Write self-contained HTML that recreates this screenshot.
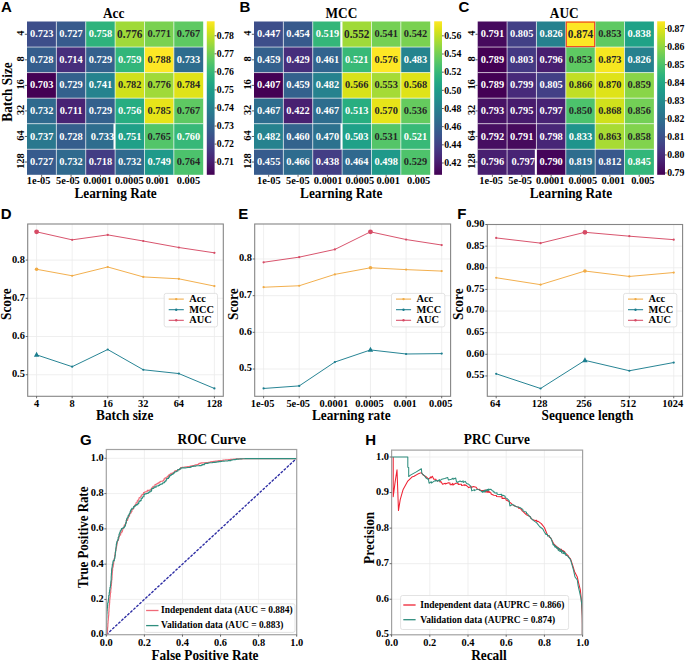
<!DOCTYPE html>
<html><head><meta charset="utf-8"><title>Figure</title>
<style>html,body{margin:0;padding:0;background:#fff;width:685px;height:661px;overflow:hidden}svg{display:block}</style>
</head><body>
<svg width="685" height="661" viewBox="0 0 685 661">
<rect x="0" y="0" width="685" height="661" fill="#fff"/>
<rect x="27.00" y="21.50" width="29.37" height="25.55" fill="#3d4e8a"/>
<rect x="56.37" y="21.50" width="29.37" height="25.55" fill="#375b8d"/>
<rect x="85.73" y="21.50" width="29.37" height="25.55" fill="#2eb37c"/>
<rect x="115.10" y="21.50" width="29.37" height="25.55" fill="#a0da39"/>
<rect x="144.47" y="21.50" width="29.37" height="25.55" fill="#7ad151"/>
<rect x="173.83" y="21.50" width="29.37" height="25.55" fill="#5ec962"/>
<rect x="27.00" y="47.05" width="29.37" height="25.55" fill="#355e8d"/>
<rect x="56.37" y="47.05" width="29.37" height="25.55" fill="#472e7c"/>
<rect x="85.73" y="47.05" width="29.37" height="25.55" fill="#34618d"/>
<rect x="115.10" y="47.05" width="29.37" height="25.55" fill="#32b67a"/>
<rect x="144.47" y="47.05" width="29.37" height="25.55" fill="#fde725"/>
<rect x="173.83" y="47.05" width="29.37" height="25.55" fill="#2e6d8e"/>
<rect x="27.00" y="72.60" width="29.37" height="25.55" fill="#440154"/>
<rect x="56.37" y="72.60" width="29.37" height="25.55" fill="#34618d"/>
<rect x="85.73" y="72.60" width="29.37" height="25.55" fill="#25838e"/>
<rect x="115.10" y="72.60" width="29.37" height="25.55" fill="#d0e11c"/>
<rect x="144.47" y="72.60" width="29.37" height="25.55" fill="#a0da39"/>
<rect x="173.83" y="72.60" width="29.37" height="25.55" fill="#dfe318"/>
<rect x="27.00" y="98.15" width="29.37" height="25.55" fill="#306a8e"/>
<rect x="56.37" y="98.15" width="29.37" height="25.55" fill="#482374"/>
<rect x="85.73" y="98.15" width="29.37" height="25.55" fill="#34618d"/>
<rect x="115.10" y="98.15" width="29.37" height="25.55" fill="#27ad81"/>
<rect x="144.47" y="98.15" width="29.37" height="25.55" fill="#e7e419"/>
<rect x="173.83" y="98.15" width="29.37" height="25.55" fill="#5ec962"/>
<rect x="27.00" y="123.70" width="29.37" height="25.55" fill="#2a788e"/>
<rect x="56.37" y="123.70" width="29.37" height="25.55" fill="#355e8d"/>
<rect x="85.73" y="123.70" width="29.37" height="25.55" fill="#2e6d8e"/>
<rect x="115.10" y="123.70" width="29.37" height="25.55" fill="#1fa088"/>
<rect x="144.47" y="123.70" width="29.37" height="25.55" fill="#52c569"/>
<rect x="173.83" y="123.70" width="29.37" height="25.55" fill="#37b878"/>
<rect x="27.00" y="149.25" width="29.37" height="25.55" fill="#375b8d"/>
<rect x="56.37" y="149.25" width="29.37" height="25.55" fill="#306a8e"/>
<rect x="85.73" y="149.25" width="29.37" height="25.55" fill="#433d84"/>
<rect x="115.10" y="149.25" width="29.37" height="25.55" fill="#306a8e"/>
<rect x="144.47" y="149.25" width="29.37" height="25.55" fill="#1f9a8a"/>
<rect x="173.83" y="149.25" width="29.37" height="25.55" fill="#4cc26c"/>
<line x1="56.37" y1="21.50" x2="56.37" y2="174.80" stroke="#ffffff" stroke-width="0.9" opacity="0.7"/>
<line x1="85.73" y1="21.50" x2="85.73" y2="174.80" stroke="#ffffff" stroke-width="0.9" opacity="0.7"/>
<line x1="115.10" y1="21.50" x2="115.10" y2="174.80" stroke="#ffffff" stroke-width="0.9" opacity="0.7"/>
<line x1="144.47" y1="21.50" x2="144.47" y2="174.80" stroke="#ffffff" stroke-width="0.9" opacity="0.7"/>
<line x1="173.83" y1="21.50" x2="173.83" y2="174.80" stroke="#ffffff" stroke-width="0.9" opacity="0.7"/>
<line x1="27.00" y1="47.05" x2="203.20" y2="47.05" stroke="#ffffff" stroke-width="0.9" opacity="0.7"/>
<line x1="27.00" y1="72.60" x2="203.20" y2="72.60" stroke="#ffffff" stroke-width="0.9" opacity="0.7"/>
<line x1="27.00" y1="98.15" x2="203.20" y2="98.15" stroke="#ffffff" stroke-width="0.9" opacity="0.7"/>
<line x1="27.00" y1="123.70" x2="203.20" y2="123.70" stroke="#ffffff" stroke-width="0.9" opacity="0.7"/>
<line x1="27.00" y1="149.25" x2="203.20" y2="149.25" stroke="#ffffff" stroke-width="0.9" opacity="0.7"/>
<text x="0" y="0" font-family='"Liberation Serif", serif' font-size="10.4" font-weight="bold" text-anchor="middle" fill="#ffffff" transform="translate(41.68 37.38) scale(1 1.08)">0.723</text>
<text x="0" y="0" font-family='"Liberation Serif", serif' font-size="10.4" font-weight="bold" text-anchor="middle" fill="#ffffff" transform="translate(71.05 37.38) scale(1 1.08)">0.727</text>
<text x="0" y="0" font-family='"Liberation Serif", serif' font-size="10.4" font-weight="bold" text-anchor="middle" fill="#ffffff" transform="translate(100.42 37.38) scale(1 1.08)">0.758</text>
<text x="0" y="0" font-family='"Liberation Serif", serif' font-size="11.3" font-weight="bold" text-anchor="middle" fill="#262626" transform="translate(129.78 37.58) scale(1 1.08)">0.776</text>
<text x="0" y="0" font-family='"Liberation Serif", serif' font-size="10.4" font-weight="bold" text-anchor="middle" fill="#262626" transform="translate(159.15 37.38) scale(1 1.08)">0.771</text>
<text x="0" y="0" font-family='"Liberation Serif", serif' font-size="10.4" font-weight="bold" text-anchor="middle" fill="#262626" transform="translate(188.52 37.38) scale(1 1.08)">0.767</text>
<text x="0" y="0" font-family='"Liberation Serif", serif' font-size="10.4" font-weight="bold" text-anchor="middle" fill="#ffffff" transform="translate(41.68 62.93) scale(1 1.08)">0.728</text>
<text x="0" y="0" font-family='"Liberation Serif", serif' font-size="10.4" font-weight="bold" text-anchor="middle" fill="#ffffff" transform="translate(71.05 62.93) scale(1 1.08)">0.714</text>
<text x="0" y="0" font-family='"Liberation Serif", serif' font-size="10.4" font-weight="bold" text-anchor="middle" fill="#ffffff" transform="translate(100.42 62.93) scale(1 1.08)">0.729</text>
<text x="0" y="0" font-family='"Liberation Serif", serif' font-size="10.4" font-weight="bold" text-anchor="middle" fill="#ffffff" transform="translate(129.78 62.93) scale(1 1.08)">0.759</text>
<text x="0" y="0" font-family='"Liberation Serif", serif' font-size="10.4" font-weight="bold" text-anchor="middle" fill="#262626" transform="translate(159.15 62.93) scale(1 1.08)">0.788</text>
<text x="0" y="0" font-family='"Liberation Serif", serif' font-size="10.4" font-weight="bold" text-anchor="middle" fill="#ffffff" transform="translate(188.52 62.93) scale(1 1.08)">0.733</text>
<text x="0" y="0" font-family='"Liberation Serif", serif' font-size="10.4" font-weight="bold" text-anchor="middle" fill="#ffffff" transform="translate(41.68 88.47) scale(1 1.08)">0.703</text>
<text x="0" y="0" font-family='"Liberation Serif", serif' font-size="10.4" font-weight="bold" text-anchor="middle" fill="#ffffff" transform="translate(71.05 88.47) scale(1 1.08)">0.729</text>
<text x="0" y="0" font-family='"Liberation Serif", serif' font-size="10.4" font-weight="bold" text-anchor="middle" fill="#ffffff" transform="translate(100.42 88.47) scale(1 1.08)">0.741</text>
<text x="0" y="0" font-family='"Liberation Serif", serif' font-size="10.4" font-weight="bold" text-anchor="middle" fill="#262626" transform="translate(129.78 88.47) scale(1 1.08)">0.782</text>
<text x="0" y="0" font-family='"Liberation Serif", serif' font-size="10.4" font-weight="bold" text-anchor="middle" fill="#262626" transform="translate(159.15 88.47) scale(1 1.08)">0.776</text>
<text x="0" y="0" font-family='"Liberation Serif", serif' font-size="10.4" font-weight="bold" text-anchor="middle" fill="#262626" transform="translate(188.52 88.47) scale(1 1.08)">0.784</text>
<text x="0" y="0" font-family='"Liberation Serif", serif' font-size="10.4" font-weight="bold" text-anchor="middle" fill="#ffffff" transform="translate(41.68 114.02) scale(1 1.08)">0.732</text>
<text x="0" y="0" font-family='"Liberation Serif", serif' font-size="10.4" font-weight="bold" text-anchor="middle" fill="#ffffff" transform="translate(71.05 114.02) scale(1 1.08)">0.711</text>
<text x="0" y="0" font-family='"Liberation Serif", serif' font-size="10.4" font-weight="bold" text-anchor="middle" fill="#ffffff" transform="translate(100.42 114.02) scale(1 1.08)">0.729</text>
<text x="0" y="0" font-family='"Liberation Serif", serif' font-size="10.4" font-weight="bold" text-anchor="middle" fill="#ffffff" transform="translate(129.78 114.02) scale(1 1.08)">0.756</text>
<text x="0" y="0" font-family='"Liberation Serif", serif' font-size="10.4" font-weight="bold" text-anchor="middle" fill="#262626" transform="translate(159.15 114.02) scale(1 1.08)">0.785</text>
<text x="0" y="0" font-family='"Liberation Serif", serif' font-size="10.4" font-weight="bold" text-anchor="middle" fill="#262626" transform="translate(188.52 114.02) scale(1 1.08)">0.767</text>
<text x="0" y="0" font-family='"Liberation Serif", serif' font-size="10.4" font-weight="bold" text-anchor="middle" fill="#ffffff" transform="translate(41.68 139.58) scale(1 1.08)">0.737</text>
<text x="0" y="0" font-family='"Liberation Serif", serif' font-size="10.4" font-weight="bold" text-anchor="middle" fill="#ffffff" transform="translate(71.05 139.58) scale(1 1.08)">0.728</text>
<text x="0" y="0" font-family='"Liberation Serif", serif' font-size="10.4" font-weight="bold" text-anchor="middle" fill="#ffffff" transform="translate(102.42 139.58) scale(1 1.08)">0.733</text>
<text x="0" y="0" font-family='"Liberation Serif", serif' font-size="10.4" font-weight="bold" text-anchor="middle" fill="#ffffff" transform="translate(129.78 139.58) scale(1 1.08)">0.751</text>
<text x="0" y="0" font-family='"Liberation Serif", serif' font-size="10.4" font-weight="bold" text-anchor="middle" fill="#262626" transform="translate(159.15 139.58) scale(1 1.08)">0.765</text>
<text x="0" y="0" font-family='"Liberation Serif", serif' font-size="10.4" font-weight="bold" text-anchor="middle" fill="#ffffff" transform="translate(188.52 139.58) scale(1 1.08)">0.760</text>
<text x="0" y="0" font-family='"Liberation Serif", serif' font-size="10.4" font-weight="bold" text-anchor="middle" fill="#ffffff" transform="translate(41.68 165.12) scale(1 1.08)">0.727</text>
<text x="0" y="0" font-family='"Liberation Serif", serif' font-size="10.4" font-weight="bold" text-anchor="middle" fill="#ffffff" transform="translate(71.05 165.12) scale(1 1.08)">0.732</text>
<text x="0" y="0" font-family='"Liberation Serif", serif' font-size="10.4" font-weight="bold" text-anchor="middle" fill="#ffffff" transform="translate(100.42 165.12) scale(1 1.08)">0.718</text>
<text x="0" y="0" font-family='"Liberation Serif", serif' font-size="10.4" font-weight="bold" text-anchor="middle" fill="#ffffff" transform="translate(129.78 165.12) scale(1 1.08)">0.732</text>
<text x="0" y="0" font-family='"Liberation Serif", serif' font-size="10.4" font-weight="bold" text-anchor="middle" fill="#ffffff" transform="translate(159.15 165.12) scale(1 1.08)">0.749</text>
<text x="0" y="0" font-family='"Liberation Serif", serif' font-size="10.4" font-weight="bold" text-anchor="middle" fill="#262626" transform="translate(188.52 165.12) scale(1 1.08)">0.764</text>
<line x1="24.80" y1="34.27" x2="27.00" y2="34.27" stroke="#333" stroke-width="0.8"/>
<text x="0" y="0" font-family='"Liberation Serif", serif' font-size="10.4" font-weight="bold" text-anchor="middle" fill="#000" transform="translate(24.00 33.27) rotate(-90) scale(1 1.08)">4</text>
<line x1="24.80" y1="59.83" x2="27.00" y2="59.83" stroke="#333" stroke-width="0.8"/>
<text x="0" y="0" font-family='"Liberation Serif", serif' font-size="10.4" font-weight="bold" text-anchor="middle" fill="#000" transform="translate(24.00 58.83) rotate(-90) scale(1 1.08)">8</text>
<line x1="24.80" y1="85.38" x2="27.00" y2="85.38" stroke="#333" stroke-width="0.8"/>
<text x="0" y="0" font-family='"Liberation Serif", serif' font-size="10.4" font-weight="bold" text-anchor="middle" fill="#000" transform="translate(24.00 84.38) rotate(-90) scale(1 1.08)">16</text>
<line x1="24.80" y1="110.92" x2="27.00" y2="110.92" stroke="#333" stroke-width="0.8"/>
<text x="0" y="0" font-family='"Liberation Serif", serif' font-size="10.4" font-weight="bold" text-anchor="middle" fill="#000" transform="translate(24.00 109.92) rotate(-90) scale(1 1.08)">32</text>
<line x1="24.80" y1="136.48" x2="27.00" y2="136.48" stroke="#333" stroke-width="0.8"/>
<text x="0" y="0" font-family='"Liberation Serif", serif' font-size="10.4" font-weight="bold" text-anchor="middle" fill="#000" transform="translate(24.00 135.48) rotate(-90) scale(1 1.08)">64</text>
<line x1="24.80" y1="162.03" x2="27.00" y2="162.03" stroke="#333" stroke-width="0.8"/>
<text x="0" y="0" font-family='"Liberation Serif", serif' font-size="10.4" font-weight="bold" text-anchor="middle" fill="#000" transform="translate(24.00 161.03) rotate(-90) scale(1 1.08)">128</text>
<line x1="41.68" y1="174.80" x2="41.68" y2="176.80" stroke="#333" stroke-width="0.8"/>
<text x="0" y="0" font-family='"Liberation Serif", serif' font-size="10.4" font-weight="bold" text-anchor="middle" fill="#000" transform="translate(38.68 183.90) scale(1 1.08)">1e-05</text>
<line x1="71.05" y1="174.80" x2="71.05" y2="176.80" stroke="#333" stroke-width="0.8"/>
<text x="0" y="0" font-family='"Liberation Serif", serif' font-size="10.4" font-weight="bold" text-anchor="middle" fill="#000" transform="translate(67.95 183.90) scale(1 1.08)">5e-05</text>
<line x1="100.42" y1="174.80" x2="100.42" y2="176.80" stroke="#333" stroke-width="0.8"/>
<text x="0" y="0" font-family='"Liberation Serif", serif' font-size="10.4" font-weight="bold" text-anchor="middle" fill="#000" transform="translate(97.62 183.90) scale(1 1.08)">0.0001</text>
<line x1="129.78" y1="174.80" x2="129.78" y2="176.80" stroke="#333" stroke-width="0.8"/>
<text x="0" y="0" font-family='"Liberation Serif", serif' font-size="10.4" font-weight="bold" text-anchor="middle" fill="#000" transform="translate(129.28 183.90) scale(1 1.08)">0.0005</text>
<line x1="159.15" y1="174.80" x2="159.15" y2="176.80" stroke="#333" stroke-width="0.8"/>
<text x="0" y="0" font-family='"Liberation Serif", serif' font-size="10.4" font-weight="bold" text-anchor="middle" fill="#000" transform="translate(157.55 183.90) scale(1 1.08)">0.001</text>
<line x1="188.52" y1="174.80" x2="188.52" y2="176.80" stroke="#333" stroke-width="0.8"/>
<text x="0" y="0" font-family='"Liberation Serif", serif' font-size="10.4" font-weight="bold" text-anchor="middle" fill="#000" transform="translate(188.42 183.90) scale(1 1.08)">0.005</text>
<text x="0" y="0" font-family='"Liberation Serif", serif' font-size="13.3" font-weight="bold" text-anchor="middle" fill="#000" transform="translate(113.70 17.50) scale(1 1.08)">Acc</text>
<text x="0" y="0" font-family='"Liberation Serif", serif' font-size="13.3" font-weight="bold" text-anchor="middle" fill="#000" transform="translate(115.60 197.60) scale(1 1.08)">Learning Rate</text>
<defs><linearGradient id="gA" x1="0" y1="0" x2="0" y2="1"><stop offset="0.000" stop-color="#fde725"/><stop offset="0.050" stop-color="#dfe318"/><stop offset="0.100" stop-color="#bddf26"/><stop offset="0.150" stop-color="#9bd93c"/><stop offset="0.200" stop-color="#7ad151"/><stop offset="0.250" stop-color="#5ec962"/><stop offset="0.300" stop-color="#44bf70"/><stop offset="0.350" stop-color="#2fb47c"/><stop offset="0.400" stop-color="#22a884"/><stop offset="0.450" stop-color="#1e9c89"/><stop offset="0.500" stop-color="#21918c"/><stop offset="0.550" stop-color="#25848e"/><stop offset="0.600" stop-color="#2a788e"/><stop offset="0.650" stop-color="#2f6c8e"/><stop offset="0.700" stop-color="#355f8d"/><stop offset="0.750" stop-color="#3b528b"/><stop offset="0.800" stop-color="#414487"/><stop offset="0.850" stop-color="#463480"/><stop offset="0.900" stop-color="#482475"/><stop offset="0.950" stop-color="#471365"/><stop offset="1.000" stop-color="#440154"/></linearGradient></defs>
<rect x="206.80" y="21.30" width="7.80" height="153.50" fill="url(#gA)"/>
<line x1="214.60" y1="162.16" x2="216.40" y2="162.16" stroke="#333" stroke-width="0.8"/>
<text x="0" y="0" font-family='"Liberation Serif", serif' font-size="9.8" font-weight="bold" text-anchor="start" fill="#000" transform="translate(216.80 165.46) scale(1 1.08)">0.71</text>
<line x1="214.60" y1="144.10" x2="216.40" y2="144.10" stroke="#333" stroke-width="0.8"/>
<text x="0" y="0" font-family='"Liberation Serif", serif' font-size="9.8" font-weight="bold" text-anchor="start" fill="#000" transform="translate(216.80 147.40) scale(1 1.08)">0.72</text>
<line x1="214.60" y1="126.04" x2="216.40" y2="126.04" stroke="#333" stroke-width="0.8"/>
<text x="0" y="0" font-family='"Liberation Serif", serif' font-size="9.8" font-weight="bold" text-anchor="start" fill="#000" transform="translate(216.80 129.34) scale(1 1.08)">0.73</text>
<line x1="214.60" y1="107.98" x2="216.40" y2="107.98" stroke="#333" stroke-width="0.8"/>
<text x="0" y="0" font-family='"Liberation Serif", serif' font-size="9.8" font-weight="bold" text-anchor="start" fill="#000" transform="translate(216.80 111.28) scale(1 1.08)">0.74</text>
<line x1="214.60" y1="89.92" x2="216.40" y2="89.92" stroke="#333" stroke-width="0.8"/>
<text x="0" y="0" font-family='"Liberation Serif", serif' font-size="9.8" font-weight="bold" text-anchor="start" fill="#000" transform="translate(216.80 93.22) scale(1 1.08)">0.75</text>
<line x1="214.60" y1="71.86" x2="216.40" y2="71.86" stroke="#333" stroke-width="0.8"/>
<text x="0" y="0" font-family='"Liberation Serif", serif' font-size="9.8" font-weight="bold" text-anchor="start" fill="#000" transform="translate(216.80 75.16) scale(1 1.08)">0.76</text>
<line x1="214.60" y1="53.81" x2="216.40" y2="53.81" stroke="#333" stroke-width="0.8"/>
<text x="0" y="0" font-family='"Liberation Serif", serif' font-size="9.8" font-weight="bold" text-anchor="start" fill="#000" transform="translate(216.80 57.11) scale(1 1.08)">0.77</text>
<line x1="214.60" y1="35.75" x2="216.40" y2="35.75" stroke="#333" stroke-width="0.8"/>
<text x="0" y="0" font-family='"Liberation Serif", serif' font-size="9.8" font-weight="bold" text-anchor="start" fill="#000" transform="translate(216.80 39.05) scale(1 1.08)">0.78</text>
<text x="0" y="0" font-family='"Liberation Sans", sans-serif' font-size="15" font-weight="bold" text-anchor="start" fill="#000" transform="translate(1.00 11.60) scale(1 1.0)">A</text>
<rect x="254.00" y="21.50" width="29.37" height="25.55" fill="#3d4e8a"/>
<rect x="283.37" y="21.50" width="29.37" height="25.55" fill="#375a8c"/>
<rect x="312.73" y="21.50" width="29.37" height="25.55" fill="#34b679"/>
<rect x="342.10" y="21.50" width="29.37" height="25.55" fill="#a0da39"/>
<rect x="371.47" y="21.50" width="29.37" height="25.55" fill="#75d054"/>
<rect x="400.83" y="21.50" width="29.37" height="25.55" fill="#7ad151"/>
<rect x="254.00" y="47.05" width="29.37" height="25.55" fill="#34618d"/>
<rect x="283.37" y="47.05" width="29.37" height="25.55" fill="#472e7c"/>
<rect x="312.73" y="47.05" width="29.37" height="25.55" fill="#32648e"/>
<rect x="342.10" y="47.05" width="29.37" height="25.55" fill="#38b977"/>
<rect x="371.47" y="47.05" width="29.37" height="25.55" fill="#fde725"/>
<rect x="400.83" y="47.05" width="29.37" height="25.55" fill="#25848e"/>
<rect x="254.00" y="72.60" width="29.37" height="25.55" fill="#440154"/>
<rect x="283.37" y="72.60" width="29.37" height="25.55" fill="#34618d"/>
<rect x="312.73" y="72.60" width="29.37" height="25.55" fill="#26828e"/>
<rect x="342.10" y="72.60" width="29.37" height="25.55" fill="#d8e219"/>
<rect x="371.47" y="72.60" width="29.37" height="25.55" fill="#a5db36"/>
<rect x="400.83" y="72.60" width="29.37" height="25.55" fill="#dfe318"/>
<rect x="254.00" y="98.15" width="29.37" height="25.55" fill="#2e6d8e"/>
<rect x="283.37" y="98.15" width="29.37" height="25.55" fill="#482071"/>
<rect x="312.73" y="98.15" width="29.37" height="25.55" fill="#2e6d8e"/>
<rect x="342.10" y="98.15" width="29.37" height="25.55" fill="#28ae80"/>
<rect x="371.47" y="98.15" width="29.37" height="25.55" fill="#e7e419"/>
<rect x="400.83" y="98.15" width="29.37" height="25.55" fill="#65cb5e"/>
<rect x="254.00" y="123.70" width="29.37" height="25.55" fill="#26828e"/>
<rect x="283.37" y="123.70" width="29.37" height="25.55" fill="#33638d"/>
<rect x="312.73" y="123.70" width="29.37" height="25.55" fill="#2c718e"/>
<rect x="342.10" y="123.70" width="29.37" height="25.55" fill="#1fa188"/>
<rect x="371.47" y="123.70" width="29.37" height="25.55" fill="#54c568"/>
<rect x="400.83" y="123.70" width="29.37" height="25.55" fill="#38b977"/>
<rect x="254.00" y="149.25" width="29.37" height="25.55" fill="#375b8d"/>
<rect x="283.37" y="149.25" width="29.37" height="25.55" fill="#2f6c8e"/>
<rect x="312.73" y="149.25" width="29.37" height="25.55" fill="#433e85"/>
<rect x="342.10" y="149.25" width="29.37" height="25.55" fill="#30698e"/>
<rect x="371.47" y="149.25" width="29.37" height="25.55" fill="#1f998a"/>
<rect x="400.83" y="149.25" width="29.37" height="25.55" fill="#4ec36b"/>
<line x1="283.37" y1="21.50" x2="283.37" y2="174.80" stroke="#ffffff" stroke-width="0.9" opacity="0.7"/>
<line x1="312.73" y1="21.50" x2="312.73" y2="174.80" stroke="#ffffff" stroke-width="0.9" opacity="0.7"/>
<line x1="342.10" y1="21.50" x2="342.10" y2="174.80" stroke="#ffffff" stroke-width="0.9" opacity="0.7"/>
<line x1="371.47" y1="21.50" x2="371.47" y2="174.80" stroke="#ffffff" stroke-width="0.9" opacity="0.7"/>
<line x1="400.83" y1="21.50" x2="400.83" y2="174.80" stroke="#ffffff" stroke-width="0.9" opacity="0.7"/>
<line x1="254.00" y1="47.05" x2="430.20" y2="47.05" stroke="#ffffff" stroke-width="0.9" opacity="0.7"/>
<line x1="254.00" y1="72.60" x2="430.20" y2="72.60" stroke="#ffffff" stroke-width="0.9" opacity="0.7"/>
<line x1="254.00" y1="98.15" x2="430.20" y2="98.15" stroke="#ffffff" stroke-width="0.9" opacity="0.7"/>
<line x1="254.00" y1="123.70" x2="430.20" y2="123.70" stroke="#ffffff" stroke-width="0.9" opacity="0.7"/>
<line x1="254.00" y1="149.25" x2="430.20" y2="149.25" stroke="#ffffff" stroke-width="0.9" opacity="0.7"/>
<text x="0" y="0" font-family='"Liberation Serif", serif' font-size="10.4" font-weight="bold" text-anchor="middle" fill="#ffffff" transform="translate(268.68 37.38) scale(1 1.08)">0.447</text>
<text x="0" y="0" font-family='"Liberation Serif", serif' font-size="10.4" font-weight="bold" text-anchor="middle" fill="#ffffff" transform="translate(298.05 37.38) scale(1 1.08)">0.454</text>
<text x="0" y="0" font-family='"Liberation Serif", serif' font-size="10.4" font-weight="bold" text-anchor="middle" fill="#ffffff" transform="translate(327.42 37.38) scale(1 1.08)">0.519</text>
<text x="0" y="0" font-family='"Liberation Serif", serif' font-size="11.3" font-weight="bold" text-anchor="middle" fill="#262626" transform="translate(356.78 37.58) scale(1 1.08)">0.552</text>
<text x="0" y="0" font-family='"Liberation Serif", serif' font-size="10.4" font-weight="bold" text-anchor="middle" fill="#262626" transform="translate(386.15 37.38) scale(1 1.08)">0.541</text>
<text x="0" y="0" font-family='"Liberation Serif", serif' font-size="10.4" font-weight="bold" text-anchor="middle" fill="#262626" transform="translate(415.52 37.38) scale(1 1.08)">0.542</text>
<text x="0" y="0" font-family='"Liberation Serif", serif' font-size="10.4" font-weight="bold" text-anchor="middle" fill="#ffffff" transform="translate(268.68 62.93) scale(1 1.08)">0.459</text>
<text x="0" y="0" font-family='"Liberation Serif", serif' font-size="10.4" font-weight="bold" text-anchor="middle" fill="#ffffff" transform="translate(298.05 62.93) scale(1 1.08)">0.429</text>
<text x="0" y="0" font-family='"Liberation Serif", serif' font-size="10.4" font-weight="bold" text-anchor="middle" fill="#ffffff" transform="translate(327.42 62.93) scale(1 1.08)">0.461</text>
<text x="0" y="0" font-family='"Liberation Serif", serif' font-size="10.4" font-weight="bold" text-anchor="middle" fill="#ffffff" transform="translate(356.78 62.93) scale(1 1.08)">0.521</text>
<text x="0" y="0" font-family='"Liberation Serif", serif' font-size="10.4" font-weight="bold" text-anchor="middle" fill="#262626" transform="translate(386.15 62.93) scale(1 1.08)">0.576</text>
<text x="0" y="0" font-family='"Liberation Serif", serif' font-size="10.4" font-weight="bold" text-anchor="middle" fill="#ffffff" transform="translate(415.52 62.93) scale(1 1.08)">0.483</text>
<text x="0" y="0" font-family='"Liberation Serif", serif' font-size="10.4" font-weight="bold" text-anchor="middle" fill="#ffffff" transform="translate(268.68 88.47) scale(1 1.08)">0.407</text>
<text x="0" y="0" font-family='"Liberation Serif", serif' font-size="10.4" font-weight="bold" text-anchor="middle" fill="#ffffff" transform="translate(298.05 88.47) scale(1 1.08)">0.459</text>
<text x="0" y="0" font-family='"Liberation Serif", serif' font-size="10.4" font-weight="bold" text-anchor="middle" fill="#ffffff" transform="translate(327.42 88.47) scale(1 1.08)">0.482</text>
<text x="0" y="0" font-family='"Liberation Serif", serif' font-size="10.4" font-weight="bold" text-anchor="middle" fill="#262626" transform="translate(356.78 88.47) scale(1 1.08)">0.566</text>
<text x="0" y="0" font-family='"Liberation Serif", serif' font-size="10.4" font-weight="bold" text-anchor="middle" fill="#262626" transform="translate(386.15 88.47) scale(1 1.08)">0.553</text>
<text x="0" y="0" font-family='"Liberation Serif", serif' font-size="10.4" font-weight="bold" text-anchor="middle" fill="#262626" transform="translate(415.52 88.47) scale(1 1.08)">0.568</text>
<text x="0" y="0" font-family='"Liberation Serif", serif' font-size="10.4" font-weight="bold" text-anchor="middle" fill="#ffffff" transform="translate(268.68 114.02) scale(1 1.08)">0.467</text>
<text x="0" y="0" font-family='"Liberation Serif", serif' font-size="10.4" font-weight="bold" text-anchor="middle" fill="#ffffff" transform="translate(298.05 114.02) scale(1 1.08)">0.422</text>
<text x="0" y="0" font-family='"Liberation Serif", serif' font-size="10.4" font-weight="bold" text-anchor="middle" fill="#ffffff" transform="translate(327.42 114.02) scale(1 1.08)">0.467</text>
<text x="0" y="0" font-family='"Liberation Serif", serif' font-size="10.4" font-weight="bold" text-anchor="middle" fill="#ffffff" transform="translate(356.78 114.02) scale(1 1.08)">0.513</text>
<text x="0" y="0" font-family='"Liberation Serif", serif' font-size="10.4" font-weight="bold" text-anchor="middle" fill="#262626" transform="translate(386.15 114.02) scale(1 1.08)">0.570</text>
<text x="0" y="0" font-family='"Liberation Serif", serif' font-size="10.4" font-weight="bold" text-anchor="middle" fill="#262626" transform="translate(415.52 114.02) scale(1 1.08)">0.536</text>
<text x="0" y="0" font-family='"Liberation Serif", serif' font-size="10.4" font-weight="bold" text-anchor="middle" fill="#ffffff" transform="translate(268.68 139.58) scale(1 1.08)">0.482</text>
<text x="0" y="0" font-family='"Liberation Serif", serif' font-size="10.4" font-weight="bold" text-anchor="middle" fill="#ffffff" transform="translate(298.05 139.58) scale(1 1.08)">0.460</text>
<text x="0" y="0" font-family='"Liberation Serif", serif' font-size="10.4" font-weight="bold" text-anchor="middle" fill="#ffffff" transform="translate(327.42 139.58) scale(1 1.08)">0.470</text>
<text x="0" y="0" font-family='"Liberation Serif", serif' font-size="10.4" font-weight="bold" text-anchor="middle" fill="#ffffff" transform="translate(356.78 139.58) scale(1 1.08)">0.503</text>
<text x="0" y="0" font-family='"Liberation Serif", serif' font-size="10.4" font-weight="bold" text-anchor="middle" fill="#262626" transform="translate(386.15 139.58) scale(1 1.08)">0.531</text>
<text x="0" y="0" font-family='"Liberation Serif", serif' font-size="10.4" font-weight="bold" text-anchor="middle" fill="#ffffff" transform="translate(415.52 139.58) scale(1 1.08)">0.521</text>
<text x="0" y="0" font-family='"Liberation Serif", serif' font-size="10.4" font-weight="bold" text-anchor="middle" fill="#ffffff" transform="translate(268.68 165.12) scale(1 1.08)">0.455</text>
<text x="0" y="0" font-family='"Liberation Serif", serif' font-size="10.4" font-weight="bold" text-anchor="middle" fill="#ffffff" transform="translate(298.05 165.12) scale(1 1.08)">0.466</text>
<text x="0" y="0" font-family='"Liberation Serif", serif' font-size="10.4" font-weight="bold" text-anchor="middle" fill="#ffffff" transform="translate(327.42 165.12) scale(1 1.08)">0.438</text>
<text x="0" y="0" font-family='"Liberation Serif", serif' font-size="10.4" font-weight="bold" text-anchor="middle" fill="#ffffff" transform="translate(356.78 165.12) scale(1 1.08)">0.464</text>
<text x="0" y="0" font-family='"Liberation Serif", serif' font-size="10.4" font-weight="bold" text-anchor="middle" fill="#ffffff" transform="translate(386.15 165.12) scale(1 1.08)">0.498</text>
<text x="0" y="0" font-family='"Liberation Serif", serif' font-size="10.4" font-weight="bold" text-anchor="middle" fill="#262626" transform="translate(415.52 165.12) scale(1 1.08)">0.529</text>
<line x1="251.80" y1="34.27" x2="254.00" y2="34.27" stroke="#333" stroke-width="0.8"/>
<text x="0" y="0" font-family='"Liberation Serif", serif' font-size="10.4" font-weight="bold" text-anchor="middle" fill="#000" transform="translate(251.00 33.27) rotate(-90) scale(1 1.08)">4</text>
<line x1="251.80" y1="59.83" x2="254.00" y2="59.83" stroke="#333" stroke-width="0.8"/>
<text x="0" y="0" font-family='"Liberation Serif", serif' font-size="10.4" font-weight="bold" text-anchor="middle" fill="#000" transform="translate(251.00 58.83) rotate(-90) scale(1 1.08)">8</text>
<line x1="251.80" y1="85.38" x2="254.00" y2="85.38" stroke="#333" stroke-width="0.8"/>
<text x="0" y="0" font-family='"Liberation Serif", serif' font-size="10.4" font-weight="bold" text-anchor="middle" fill="#000" transform="translate(251.00 84.38) rotate(-90) scale(1 1.08)">16</text>
<line x1="251.80" y1="110.92" x2="254.00" y2="110.92" stroke="#333" stroke-width="0.8"/>
<text x="0" y="0" font-family='"Liberation Serif", serif' font-size="10.4" font-weight="bold" text-anchor="middle" fill="#000" transform="translate(251.00 109.92) rotate(-90) scale(1 1.08)">32</text>
<line x1="251.80" y1="136.48" x2="254.00" y2="136.48" stroke="#333" stroke-width="0.8"/>
<text x="0" y="0" font-family='"Liberation Serif", serif' font-size="10.4" font-weight="bold" text-anchor="middle" fill="#000" transform="translate(251.00 135.48) rotate(-90) scale(1 1.08)">64</text>
<line x1="251.80" y1="162.03" x2="254.00" y2="162.03" stroke="#333" stroke-width="0.8"/>
<text x="0" y="0" font-family='"Liberation Serif", serif' font-size="10.4" font-weight="bold" text-anchor="middle" fill="#000" transform="translate(251.00 161.03) rotate(-90) scale(1 1.08)">128</text>
<line x1="268.68" y1="174.80" x2="268.68" y2="176.80" stroke="#333" stroke-width="0.8"/>
<text x="0" y="0" font-family='"Liberation Serif", serif' font-size="10.4" font-weight="bold" text-anchor="middle" fill="#000" transform="translate(268.88 183.90) scale(1 1.08)">1e-05</text>
<line x1="298.05" y1="174.80" x2="298.05" y2="176.80" stroke="#333" stroke-width="0.8"/>
<text x="0" y="0" font-family='"Liberation Serif", serif' font-size="10.4" font-weight="bold" text-anchor="middle" fill="#000" transform="translate(297.85 183.90) scale(1 1.08)">5e-05</text>
<line x1="327.42" y1="174.80" x2="327.42" y2="176.80" stroke="#333" stroke-width="0.8"/>
<text x="0" y="0" font-family='"Liberation Serif", serif' font-size="10.4" font-weight="bold" text-anchor="middle" fill="#000" transform="translate(328.12 183.90) scale(1 1.08)">0.0001</text>
<line x1="356.78" y1="174.80" x2="356.78" y2="176.80" stroke="#333" stroke-width="0.8"/>
<text x="0" y="0" font-family='"Liberation Serif", serif' font-size="10.4" font-weight="bold" text-anchor="middle" fill="#000" transform="translate(359.78 183.90) scale(1 1.08)">0.0005</text>
<line x1="386.15" y1="174.80" x2="386.15" y2="176.80" stroke="#333" stroke-width="0.8"/>
<text x="0" y="0" font-family='"Liberation Serif", serif' font-size="10.4" font-weight="bold" text-anchor="middle" fill="#000" transform="translate(388.25 183.90) scale(1 1.08)">0.001</text>
<line x1="415.52" y1="174.80" x2="415.52" y2="176.80" stroke="#333" stroke-width="0.8"/>
<text x="0" y="0" font-family='"Liberation Serif", serif' font-size="10.4" font-weight="bold" text-anchor="middle" fill="#000" transform="translate(418.62 183.90) scale(1 1.08)">0.005</text>
<text x="0" y="0" font-family='"Liberation Serif", serif' font-size="13.3" font-weight="bold" text-anchor="middle" fill="#000" transform="translate(341.40 17.50) scale(1 1.08)">MCC</text>
<text x="0" y="0" font-family='"Liberation Serif", serif' font-size="13.3" font-weight="bold" text-anchor="middle" fill="#000" transform="translate(341.20 197.60) scale(1 1.08)">Learning Rate</text>
<defs><linearGradient id="gB" x1="0" y1="0" x2="0" y2="1"><stop offset="0.000" stop-color="#fde725"/><stop offset="0.050" stop-color="#dfe318"/><stop offset="0.100" stop-color="#bddf26"/><stop offset="0.150" stop-color="#9bd93c"/><stop offset="0.200" stop-color="#7ad151"/><stop offset="0.250" stop-color="#5ec962"/><stop offset="0.300" stop-color="#44bf70"/><stop offset="0.350" stop-color="#2fb47c"/><stop offset="0.400" stop-color="#22a884"/><stop offset="0.450" stop-color="#1e9c89"/><stop offset="0.500" stop-color="#21918c"/><stop offset="0.550" stop-color="#25848e"/><stop offset="0.600" stop-color="#2a788e"/><stop offset="0.650" stop-color="#2f6c8e"/><stop offset="0.700" stop-color="#355f8d"/><stop offset="0.750" stop-color="#3b528b"/><stop offset="0.800" stop-color="#414487"/><stop offset="0.850" stop-color="#463480"/><stop offset="0.900" stop-color="#482475"/><stop offset="0.950" stop-color="#471365"/><stop offset="1.000" stop-color="#440154"/></linearGradient></defs>
<rect x="434.20" y="21.30" width="7.80" height="153.50" fill="url(#gB)"/>
<line x1="442.00" y1="162.99" x2="443.80" y2="162.99" stroke="#333" stroke-width="0.8"/>
<text x="0" y="0" font-family='"Liberation Serif", serif' font-size="9.8" font-weight="bold" text-anchor="start" fill="#000" transform="translate(444.20 166.29) scale(1 1.08)">0.42</text>
<line x1="442.00" y1="144.83" x2="443.80" y2="144.83" stroke="#333" stroke-width="0.8"/>
<text x="0" y="0" font-family='"Liberation Serif", serif' font-size="9.8" font-weight="bold" text-anchor="start" fill="#000" transform="translate(444.20 148.13) scale(1 1.08)">0.44</text>
<line x1="442.00" y1="126.66" x2="443.80" y2="126.66" stroke="#333" stroke-width="0.8"/>
<text x="0" y="0" font-family='"Liberation Serif", serif' font-size="9.8" font-weight="bold" text-anchor="start" fill="#000" transform="translate(444.20 129.96) scale(1 1.08)">0.46</text>
<line x1="442.00" y1="108.50" x2="443.80" y2="108.50" stroke="#333" stroke-width="0.8"/>
<text x="0" y="0" font-family='"Liberation Serif", serif' font-size="9.8" font-weight="bold" text-anchor="start" fill="#000" transform="translate(444.20 111.80) scale(1 1.08)">0.48</text>
<line x1="442.00" y1="90.33" x2="443.80" y2="90.33" stroke="#333" stroke-width="0.8"/>
<text x="0" y="0" font-family='"Liberation Serif", serif' font-size="9.8" font-weight="bold" text-anchor="start" fill="#000" transform="translate(444.20 93.63) scale(1 1.08)">0.50</text>
<line x1="442.00" y1="72.16" x2="443.80" y2="72.16" stroke="#333" stroke-width="0.8"/>
<text x="0" y="0" font-family='"Liberation Serif", serif' font-size="9.8" font-weight="bold" text-anchor="start" fill="#000" transform="translate(444.20 75.46) scale(1 1.08)">0.52</text>
<line x1="442.00" y1="54.00" x2="443.80" y2="54.00" stroke="#333" stroke-width="0.8"/>
<text x="0" y="0" font-family='"Liberation Serif", serif' font-size="9.8" font-weight="bold" text-anchor="start" fill="#000" transform="translate(444.20 57.30) scale(1 1.08)">0.54</text>
<line x1="442.00" y1="35.83" x2="443.80" y2="35.83" stroke="#333" stroke-width="0.8"/>
<text x="0" y="0" font-family='"Liberation Serif", serif' font-size="9.8" font-weight="bold" text-anchor="start" fill="#000" transform="translate(444.20 39.13) scale(1 1.08)">0.56</text>
<text x="0" y="0" font-family='"Liberation Sans", sans-serif' font-size="15" font-weight="bold" text-anchor="start" fill="#000" transform="translate(239.60 11.60) scale(1 1.0)">B</text>
<rect x="477.70" y="21.50" width="29.37" height="25.55" fill="#460a5d"/>
<rect x="507.07" y="21.50" width="29.37" height="25.55" fill="#424086"/>
<rect x="536.43" y="21.50" width="29.37" height="25.55" fill="#26818e"/>
<rect x="565.80" y="21.50" width="29.37" height="25.55" fill="#fde725"/>
<rect x="595.17" y="21.50" width="29.37" height="25.55" fill="#5ec962"/>
<rect x="624.53" y="21.50" width="29.37" height="25.55" fill="#1fa287"/>
<rect x="477.70" y="47.05" width="29.37" height="25.55" fill="#440154"/>
<rect x="507.07" y="47.05" width="29.37" height="25.55" fill="#443983"/>
<rect x="536.43" y="47.05" width="29.37" height="25.55" fill="#481f70"/>
<rect x="565.80" y="47.05" width="29.37" height="25.55" fill="#5ec962"/>
<rect x="595.17" y="47.05" width="29.37" height="25.55" fill="#f6e620"/>
<rect x="624.53" y="47.05" width="29.37" height="25.55" fill="#26818e"/>
<rect x="477.70" y="72.60" width="29.37" height="25.55" fill="#440154"/>
<rect x="507.07" y="72.60" width="29.37" height="25.55" fill="#472a7a"/>
<rect x="536.43" y="72.60" width="29.37" height="25.55" fill="#424086"/>
<rect x="565.80" y="72.60" width="29.37" height="25.55" fill="#c0df25"/>
<rect x="595.17" y="72.60" width="29.37" height="25.55" fill="#dfe318"/>
<rect x="624.53" y="72.60" width="29.37" height="25.55" fill="#89d548"/>
<rect x="477.70" y="98.15" width="29.37" height="25.55" fill="#471365"/>
<rect x="507.07" y="98.15" width="29.37" height="25.55" fill="#481b6d"/>
<rect x="536.43" y="98.15" width="29.37" height="25.55" fill="#482374"/>
<rect x="565.80" y="98.15" width="29.37" height="25.55" fill="#4cc26c"/>
<rect x="595.17" y="98.15" width="29.37" height="25.55" fill="#d0e11c"/>
<rect x="624.53" y="98.15" width="29.37" height="25.55" fill="#73d056"/>
<rect x="477.70" y="123.70" width="29.37" height="25.55" fill="#470e61"/>
<rect x="507.07" y="123.70" width="29.37" height="25.55" fill="#460a5d"/>
<rect x="536.43" y="123.70" width="29.37" height="25.55" fill="#482677"/>
<rect x="565.80" y="123.70" width="29.37" height="25.55" fill="#1f948c"/>
<rect x="595.17" y="123.70" width="29.37" height="25.55" fill="#a8db34"/>
<rect x="624.53" y="123.70" width="29.37" height="25.55" fill="#81d34d"/>
<rect x="477.70" y="149.25" width="29.37" height="25.55" fill="#481f70"/>
<rect x="507.07" y="149.25" width="29.37" height="25.55" fill="#482374"/>
<rect x="536.43" y="149.25" width="29.37" height="25.55" fill="#450559"/>
<rect x="565.80" y="149.25" width="29.37" height="25.55" fill="#2e6d8e"/>
<rect x="595.17" y="149.25" width="29.37" height="25.55" fill="#38588c"/>
<rect x="624.53" y="149.25" width="29.37" height="25.55" fill="#32b67a"/>
<line x1="507.07" y1="21.50" x2="507.07" y2="174.80" stroke="#ffffff" stroke-width="0.9" opacity="0.7"/>
<line x1="536.43" y1="21.50" x2="536.43" y2="174.80" stroke="#ffffff" stroke-width="0.9" opacity="0.7"/>
<line x1="565.80" y1="21.50" x2="565.80" y2="174.80" stroke="#ffffff" stroke-width="0.9" opacity="0.7"/>
<line x1="595.17" y1="21.50" x2="595.17" y2="174.80" stroke="#ffffff" stroke-width="0.9" opacity="0.7"/>
<line x1="624.53" y1="21.50" x2="624.53" y2="174.80" stroke="#ffffff" stroke-width="0.9" opacity="0.7"/>
<line x1="477.70" y1="47.05" x2="653.90" y2="47.05" stroke="#ffffff" stroke-width="0.9" opacity="0.7"/>
<line x1="477.70" y1="72.60" x2="653.90" y2="72.60" stroke="#ffffff" stroke-width="0.9" opacity="0.7"/>
<line x1="477.70" y1="98.15" x2="653.90" y2="98.15" stroke="#ffffff" stroke-width="0.9" opacity="0.7"/>
<line x1="477.70" y1="123.70" x2="653.90" y2="123.70" stroke="#ffffff" stroke-width="0.9" opacity="0.7"/>
<line x1="477.70" y1="149.25" x2="653.90" y2="149.25" stroke="#ffffff" stroke-width="0.9" opacity="0.7"/>
<text x="0" y="0" font-family='"Liberation Serif", serif' font-size="10.4" font-weight="bold" text-anchor="middle" fill="#ffffff" transform="translate(492.38 37.38) scale(1 1.08)">0.791</text>
<text x="0" y="0" font-family='"Liberation Serif", serif' font-size="10.4" font-weight="bold" text-anchor="middle" fill="#ffffff" transform="translate(521.75 37.38) scale(1 1.08)">0.805</text>
<text x="0" y="0" font-family='"Liberation Serif", serif' font-size="10.4" font-weight="bold" text-anchor="middle" fill="#ffffff" transform="translate(551.12 37.38) scale(1 1.08)">0.826</text>
<text x="0" y="0" font-family='"Liberation Serif", serif' font-size="11.3" font-weight="bold" text-anchor="middle" fill="#262626" transform="translate(580.48 37.58) scale(1 1.08)">0.874</text>
<text x="0" y="0" font-family='"Liberation Serif", serif' font-size="10.4" font-weight="bold" text-anchor="middle" fill="#262626" transform="translate(609.85 37.38) scale(1 1.08)">0.853</text>
<text x="0" y="0" font-family='"Liberation Serif", serif' font-size="10.4" font-weight="bold" text-anchor="middle" fill="#ffffff" transform="translate(639.22 37.38) scale(1 1.08)">0.838</text>
<text x="0" y="0" font-family='"Liberation Serif", serif' font-size="10.4" font-weight="bold" text-anchor="middle" fill="#ffffff" transform="translate(492.38 62.93) scale(1 1.08)">0.789</text>
<text x="0" y="0" font-family='"Liberation Serif", serif' font-size="10.4" font-weight="bold" text-anchor="middle" fill="#ffffff" transform="translate(521.75 62.93) scale(1 1.08)">0.803</text>
<text x="0" y="0" font-family='"Liberation Serif", serif' font-size="10.4" font-weight="bold" text-anchor="middle" fill="#ffffff" transform="translate(551.12 62.93) scale(1 1.08)">0.796</text>
<text x="0" y="0" font-family='"Liberation Serif", serif' font-size="10.4" font-weight="bold" text-anchor="middle" fill="#262626" transform="translate(580.48 62.93) scale(1 1.08)">0.853</text>
<text x="0" y="0" font-family='"Liberation Serif", serif' font-size="10.4" font-weight="bold" text-anchor="middle" fill="#262626" transform="translate(609.85 62.93) scale(1 1.08)">0.873</text>
<text x="0" y="0" font-family='"Liberation Serif", serif' font-size="10.4" font-weight="bold" text-anchor="middle" fill="#ffffff" transform="translate(639.22 62.93) scale(1 1.08)">0.826</text>
<text x="0" y="0" font-family='"Liberation Serif", serif' font-size="10.4" font-weight="bold" text-anchor="middle" fill="#ffffff" transform="translate(492.38 88.47) scale(1 1.08)">0.789</text>
<text x="0" y="0" font-family='"Liberation Serif", serif' font-size="10.4" font-weight="bold" text-anchor="middle" fill="#ffffff" transform="translate(521.75 88.47) scale(1 1.08)">0.799</text>
<text x="0" y="0" font-family='"Liberation Serif", serif' font-size="10.4" font-weight="bold" text-anchor="middle" fill="#ffffff" transform="translate(551.12 88.47) scale(1 1.08)">0.805</text>
<text x="0" y="0" font-family='"Liberation Serif", serif' font-size="10.4" font-weight="bold" text-anchor="middle" fill="#262626" transform="translate(580.48 88.47) scale(1 1.08)">0.866</text>
<text x="0" y="0" font-family='"Liberation Serif", serif' font-size="10.4" font-weight="bold" text-anchor="middle" fill="#262626" transform="translate(609.85 88.47) scale(1 1.08)">0.870</text>
<text x="0" y="0" font-family='"Liberation Serif", serif' font-size="10.4" font-weight="bold" text-anchor="middle" fill="#262626" transform="translate(639.22 88.47) scale(1 1.08)">0.859</text>
<text x="0" y="0" font-family='"Liberation Serif", serif' font-size="10.4" font-weight="bold" text-anchor="middle" fill="#ffffff" transform="translate(492.38 114.02) scale(1 1.08)">0.793</text>
<text x="0" y="0" font-family='"Liberation Serif", serif' font-size="10.4" font-weight="bold" text-anchor="middle" fill="#ffffff" transform="translate(521.75 114.02) scale(1 1.08)">0.795</text>
<text x="0" y="0" font-family='"Liberation Serif", serif' font-size="10.4" font-weight="bold" text-anchor="middle" fill="#ffffff" transform="translate(551.12 114.02) scale(1 1.08)">0.797</text>
<text x="0" y="0" font-family='"Liberation Serif", serif' font-size="10.4" font-weight="bold" text-anchor="middle" fill="#262626" transform="translate(580.48 114.02) scale(1 1.08)">0.850</text>
<text x="0" y="0" font-family='"Liberation Serif", serif' font-size="10.4" font-weight="bold" text-anchor="middle" fill="#262626" transform="translate(609.85 114.02) scale(1 1.08)">0.868</text>
<text x="0" y="0" font-family='"Liberation Serif", serif' font-size="10.4" font-weight="bold" text-anchor="middle" fill="#262626" transform="translate(639.22 114.02) scale(1 1.08)">0.856</text>
<text x="0" y="0" font-family='"Liberation Serif", serif' font-size="10.4" font-weight="bold" text-anchor="middle" fill="#ffffff" transform="translate(492.38 139.58) scale(1 1.08)">0.792</text>
<text x="0" y="0" font-family='"Liberation Serif", serif' font-size="10.4" font-weight="bold" text-anchor="middle" fill="#ffffff" transform="translate(521.75 139.58) scale(1 1.08)">0.791</text>
<text x="0" y="0" font-family='"Liberation Serif", serif' font-size="10.4" font-weight="bold" text-anchor="middle" fill="#ffffff" transform="translate(551.12 139.58) scale(1 1.08)">0.798</text>
<text x="0" y="0" font-family='"Liberation Serif", serif' font-size="10.4" font-weight="bold" text-anchor="middle" fill="#ffffff" transform="translate(580.48 139.58) scale(1 1.08)">0.833</text>
<text x="0" y="0" font-family='"Liberation Serif", serif' font-size="10.4" font-weight="bold" text-anchor="middle" fill="#262626" transform="translate(609.85 139.58) scale(1 1.08)">0.863</text>
<text x="0" y="0" font-family='"Liberation Serif", serif' font-size="10.4" font-weight="bold" text-anchor="middle" fill="#262626" transform="translate(639.22 139.58) scale(1 1.08)">0.858</text>
<text x="0" y="0" font-family='"Liberation Serif", serif' font-size="10.4" font-weight="bold" text-anchor="middle" fill="#ffffff" transform="translate(492.38 165.12) scale(1 1.08)">0.796</text>
<text x="0" y="0" font-family='"Liberation Serif", serif' font-size="10.4" font-weight="bold" text-anchor="middle" fill="#ffffff" transform="translate(523.25 165.12) scale(1 1.08)">0.797</text>
<text x="0" y="0" font-family='"Liberation Serif", serif' font-size="10.4" font-weight="bold" text-anchor="middle" fill="#ffffff" transform="translate(551.12 165.12) scale(1 1.08)">0.790</text>
<text x="0" y="0" font-family='"Liberation Serif", serif' font-size="10.4" font-weight="bold" text-anchor="middle" fill="#ffffff" transform="translate(580.48 165.12) scale(1 1.08)">0.819</text>
<text x="0" y="0" font-family='"Liberation Serif", serif' font-size="10.4" font-weight="bold" text-anchor="middle" fill="#ffffff" transform="translate(609.85 165.12) scale(1 1.08)">0.812</text>
<text x="0" y="0" font-family='"Liberation Serif", serif' font-size="10.4" font-weight="bold" text-anchor="middle" fill="#ffffff" transform="translate(639.22 165.12) scale(1 1.08)">0.845</text>
<line x1="475.50" y1="34.27" x2="477.70" y2="34.27" stroke="#333" stroke-width="0.8"/>
<text x="0" y="0" font-family='"Liberation Serif", serif' font-size="10.4" font-weight="bold" text-anchor="middle" fill="#000" transform="translate(474.70 33.27) rotate(-90) scale(1 1.08)">4</text>
<line x1="475.50" y1="59.83" x2="477.70" y2="59.83" stroke="#333" stroke-width="0.8"/>
<text x="0" y="0" font-family='"Liberation Serif", serif' font-size="10.4" font-weight="bold" text-anchor="middle" fill="#000" transform="translate(474.70 58.83) rotate(-90) scale(1 1.08)">8</text>
<line x1="475.50" y1="85.38" x2="477.70" y2="85.38" stroke="#333" stroke-width="0.8"/>
<text x="0" y="0" font-family='"Liberation Serif", serif' font-size="10.4" font-weight="bold" text-anchor="middle" fill="#000" transform="translate(474.70 84.38) rotate(-90) scale(1 1.08)">16</text>
<line x1="475.50" y1="110.92" x2="477.70" y2="110.92" stroke="#333" stroke-width="0.8"/>
<text x="0" y="0" font-family='"Liberation Serif", serif' font-size="10.4" font-weight="bold" text-anchor="middle" fill="#000" transform="translate(474.70 109.92) rotate(-90) scale(1 1.08)">32</text>
<line x1="475.50" y1="136.48" x2="477.70" y2="136.48" stroke="#333" stroke-width="0.8"/>
<text x="0" y="0" font-family='"Liberation Serif", serif' font-size="10.4" font-weight="bold" text-anchor="middle" fill="#000" transform="translate(474.70 135.48) rotate(-90) scale(1 1.08)">64</text>
<line x1="475.50" y1="162.03" x2="477.70" y2="162.03" stroke="#333" stroke-width="0.8"/>
<text x="0" y="0" font-family='"Liberation Serif", serif' font-size="10.4" font-weight="bold" text-anchor="middle" fill="#000" transform="translate(474.70 161.03) rotate(-90) scale(1 1.08)">128</text>
<line x1="492.38" y1="174.80" x2="492.38" y2="176.80" stroke="#333" stroke-width="0.8"/>
<text x="0" y="0" font-family='"Liberation Serif", serif' font-size="10.4" font-weight="bold" text-anchor="middle" fill="#000" transform="translate(491.18 183.90) scale(1 1.08)">1e-05</text>
<line x1="521.75" y1="174.80" x2="521.75" y2="176.80" stroke="#333" stroke-width="0.8"/>
<text x="0" y="0" font-family='"Liberation Serif", serif' font-size="10.4" font-weight="bold" text-anchor="middle" fill="#000" transform="translate(520.15 183.90) scale(1 1.08)">5e-05</text>
<line x1="551.12" y1="174.80" x2="551.12" y2="176.80" stroke="#333" stroke-width="0.8"/>
<text x="0" y="0" font-family='"Liberation Serif", serif' font-size="10.4" font-weight="bold" text-anchor="middle" fill="#000" transform="translate(550.22 183.90) scale(1 1.08)">0.0001</text>
<line x1="580.48" y1="174.80" x2="580.48" y2="176.80" stroke="#333" stroke-width="0.8"/>
<text x="0" y="0" font-family='"Liberation Serif", serif' font-size="10.4" font-weight="bold" text-anchor="middle" fill="#000" transform="translate(582.78 183.90) scale(1 1.08)">0.0005</text>
<line x1="609.85" y1="174.80" x2="609.85" y2="176.80" stroke="#333" stroke-width="0.8"/>
<text x="0" y="0" font-family='"Liberation Serif", serif' font-size="10.4" font-weight="bold" text-anchor="middle" fill="#000" transform="translate(613.15 183.90) scale(1 1.08)">0.001</text>
<line x1="639.22" y1="174.80" x2="639.22" y2="176.80" stroke="#333" stroke-width="0.8"/>
<text x="0" y="0" font-family='"Liberation Serif", serif' font-size="10.4" font-weight="bold" text-anchor="middle" fill="#000" transform="translate(642.82 183.90) scale(1 1.08)">0.005</text>
<text x="0" y="0" font-family='"Liberation Serif", serif' font-size="13.3" font-weight="bold" text-anchor="middle" fill="#000" transform="translate(564.20 17.50) scale(1 1.08)">AUC</text>
<text x="0" y="0" font-family='"Liberation Serif", serif' font-size="13.3" font-weight="bold" text-anchor="middle" fill="#000" transform="translate(570.90 197.60) scale(1 1.08)">Learning Rate</text>
<defs><linearGradient id="gC" x1="0" y1="0" x2="0" y2="1"><stop offset="0.000" stop-color="#fde725"/><stop offset="0.050" stop-color="#dfe318"/><stop offset="0.100" stop-color="#bddf26"/><stop offset="0.150" stop-color="#9bd93c"/><stop offset="0.200" stop-color="#7ad151"/><stop offset="0.250" stop-color="#5ec962"/><stop offset="0.300" stop-color="#44bf70"/><stop offset="0.350" stop-color="#2fb47c"/><stop offset="0.400" stop-color="#22a884"/><stop offset="0.450" stop-color="#1e9c89"/><stop offset="0.500" stop-color="#21918c"/><stop offset="0.550" stop-color="#25848e"/><stop offset="0.600" stop-color="#2a788e"/><stop offset="0.650" stop-color="#2f6c8e"/><stop offset="0.700" stop-color="#355f8d"/><stop offset="0.750" stop-color="#3b528b"/><stop offset="0.800" stop-color="#414487"/><stop offset="0.850" stop-color="#463480"/><stop offset="0.900" stop-color="#482475"/><stop offset="0.950" stop-color="#471365"/><stop offset="1.000" stop-color="#440154"/></linearGradient></defs>
<rect x="657.20" y="21.30" width="7.80" height="153.50" fill="url(#gC)"/>
<line x1="665.00" y1="172.99" x2="666.80" y2="172.99" stroke="#333" stroke-width="0.8"/>
<text x="0" y="0" font-family='"Liberation Serif", serif' font-size="9.8" font-weight="bold" text-anchor="start" fill="#000" transform="translate(667.20 176.29) scale(1 1.08)">0.79</text>
<line x1="665.00" y1="154.94" x2="666.80" y2="154.94" stroke="#333" stroke-width="0.8"/>
<text x="0" y="0" font-family='"Liberation Serif", serif' font-size="9.8" font-weight="bold" text-anchor="start" fill="#000" transform="translate(667.20 158.24) scale(1 1.08)">0.80</text>
<line x1="665.00" y1="136.88" x2="666.80" y2="136.88" stroke="#333" stroke-width="0.8"/>
<text x="0" y="0" font-family='"Liberation Serif", serif' font-size="9.8" font-weight="bold" text-anchor="start" fill="#000" transform="translate(667.20 140.18) scale(1 1.08)">0.81</text>
<line x1="665.00" y1="118.82" x2="666.80" y2="118.82" stroke="#333" stroke-width="0.8"/>
<text x="0" y="0" font-family='"Liberation Serif", serif' font-size="9.8" font-weight="bold" text-anchor="start" fill="#000" transform="translate(667.20 122.12) scale(1 1.08)">0.82</text>
<line x1="665.00" y1="100.76" x2="666.80" y2="100.76" stroke="#333" stroke-width="0.8"/>
<text x="0" y="0" font-family='"Liberation Serif", serif' font-size="9.8" font-weight="bold" text-anchor="start" fill="#000" transform="translate(667.20 104.06) scale(1 1.08)">0.83</text>
<line x1="665.00" y1="82.70" x2="666.80" y2="82.70" stroke="#333" stroke-width="0.8"/>
<text x="0" y="0" font-family='"Liberation Serif", serif' font-size="9.8" font-weight="bold" text-anchor="start" fill="#000" transform="translate(667.20 86.00) scale(1 1.08)">0.84</text>
<line x1="665.00" y1="64.64" x2="666.80" y2="64.64" stroke="#333" stroke-width="0.8"/>
<text x="0" y="0" font-family='"Liberation Serif", serif' font-size="9.8" font-weight="bold" text-anchor="start" fill="#000" transform="translate(667.20 67.94) scale(1 1.08)">0.85</text>
<line x1="665.00" y1="46.58" x2="666.80" y2="46.58" stroke="#333" stroke-width="0.8"/>
<text x="0" y="0" font-family='"Liberation Serif", serif' font-size="9.8" font-weight="bold" text-anchor="start" fill="#000" transform="translate(667.20 49.88) scale(1 1.08)">0.86</text>
<line x1="665.00" y1="28.52" x2="666.80" y2="28.52" stroke="#333" stroke-width="0.8"/>
<text x="0" y="0" font-family='"Liberation Serif", serif' font-size="9.8" font-weight="bold" text-anchor="start" fill="#000" transform="translate(667.20 31.82) scale(1 1.08)">0.87</text>
<text x="0" y="0" font-family='"Liberation Sans", sans-serif' font-size="15" font-weight="bold" text-anchor="start" fill="#000" transform="translate(458.60 11.60) scale(1 1.0)">C</text>
<text x="0" y="0" font-family='"Liberation Serif", serif' font-size="13.3" font-weight="bold" text-anchor="middle" fill="#000" transform="translate(11.80 92.00) rotate(-90) scale(1 1.08)">Batch Size</text>
<rect x="113.50" y="123.70" width="1.80" height="25.55" fill="#ffffff"/>
<rect x="340.30" y="21.50" width="1.80" height="25.55" fill="#ffffff"/>
<rect x="340.50" y="123.70" width="1.80" height="25.55" fill="#ffffff"/>
<rect x="534.83" y="149.25" width="1.80" height="25.55" fill="#ffffff"/>
<rect x="566.30" y="22.10" width="28.37" height="24.55" fill="none" stroke="#ee3b24" stroke-width="1.1"/>
<line x1="36.59" y1="224.00" x2="36.59" y2="396.30" stroke="#ebebeb" stroke-width="0.8"/>
<line x1="72.15" y1="224.00" x2="72.15" y2="396.30" stroke="#ebebeb" stroke-width="0.8"/>
<line x1="107.72" y1="224.00" x2="107.72" y2="396.30" stroke="#ebebeb" stroke-width="0.8"/>
<line x1="143.28" y1="224.00" x2="143.28" y2="396.30" stroke="#ebebeb" stroke-width="0.8"/>
<line x1="178.85" y1="224.00" x2="178.85" y2="396.30" stroke="#ebebeb" stroke-width="0.8"/>
<line x1="214.41" y1="224.00" x2="214.41" y2="396.30" stroke="#ebebeb" stroke-width="0.8"/>
<line x1="27.70" y1="374.71" x2="223.30" y2="374.71" stroke="#ebebeb" stroke-width="0.8"/>
<line x1="27.70" y1="336.51" x2="223.30" y2="336.51" stroke="#ebebeb" stroke-width="0.8"/>
<line x1="27.70" y1="298.31" x2="223.30" y2="298.31" stroke="#ebebeb" stroke-width="0.8"/>
<line x1="27.70" y1="260.10" x2="223.30" y2="260.10" stroke="#ebebeb" stroke-width="0.8"/>
<rect x="27.70" y="224.00" width="195.60" height="172.30" fill="none" stroke="#858585" stroke-width="1.1"/>
<line x1="36.59" y1="396.30" x2="36.59" y2="398.30" stroke="#444" stroke-width="0.8"/>
<text x="0" y="0" font-family='"Liberation Serif", serif' font-size="10.4" font-weight="bold" text-anchor="middle" fill="#000" transform="translate(36.59 406.60) scale(1 1.08)">4</text>
<line x1="72.15" y1="396.30" x2="72.15" y2="398.30" stroke="#444" stroke-width="0.8"/>
<text x="0" y="0" font-family='"Liberation Serif", serif' font-size="10.4" font-weight="bold" text-anchor="middle" fill="#000" transform="translate(72.15 406.60) scale(1 1.08)">8</text>
<line x1="107.72" y1="396.30" x2="107.72" y2="398.30" stroke="#444" stroke-width="0.8"/>
<text x="0" y="0" font-family='"Liberation Serif", serif' font-size="10.4" font-weight="bold" text-anchor="middle" fill="#000" transform="translate(107.72 406.60) scale(1 1.08)">16</text>
<line x1="143.28" y1="396.30" x2="143.28" y2="398.30" stroke="#444" stroke-width="0.8"/>
<text x="0" y="0" font-family='"Liberation Serif", serif' font-size="10.4" font-weight="bold" text-anchor="middle" fill="#000" transform="translate(143.28 406.60) scale(1 1.08)">32</text>
<line x1="178.85" y1="396.30" x2="178.85" y2="398.30" stroke="#444" stroke-width="0.8"/>
<text x="0" y="0" font-family='"Liberation Serif", serif' font-size="10.4" font-weight="bold" text-anchor="middle" fill="#000" transform="translate(178.85 406.60) scale(1 1.08)">64</text>
<line x1="214.41" y1="396.30" x2="214.41" y2="398.30" stroke="#444" stroke-width="0.8"/>
<text x="0" y="0" font-family='"Liberation Serif", serif' font-size="10.4" font-weight="bold" text-anchor="middle" fill="#000" transform="translate(214.41 406.60) scale(1 1.08)">128</text>
<line x1="25.70" y1="374.71" x2="27.70" y2="374.71" stroke="#444" stroke-width="0.8"/>
<text x="0" y="0" font-family='"Liberation Serif", serif' font-size="10.4" font-weight="bold" text-anchor="end" fill="#000" transform="translate(24.90 377.11) scale(1 1.08)">0.5</text>
<line x1="25.70" y1="336.51" x2="27.70" y2="336.51" stroke="#444" stroke-width="0.8"/>
<text x="0" y="0" font-family='"Liberation Serif", serif' font-size="10.4" font-weight="bold" text-anchor="end" fill="#000" transform="translate(24.90 338.91) scale(1 1.08)">0.6</text>
<line x1="25.70" y1="298.31" x2="27.70" y2="298.31" stroke="#444" stroke-width="0.8"/>
<text x="0" y="0" font-family='"Liberation Serif", serif' font-size="10.4" font-weight="bold" text-anchor="end" fill="#000" transform="translate(24.90 300.71) scale(1 1.08)">0.7</text>
<line x1="25.70" y1="260.10" x2="27.70" y2="260.10" stroke="#444" stroke-width="0.8"/>
<text x="0" y="0" font-family='"Liberation Serif", serif' font-size="10.4" font-weight="bold" text-anchor="end" fill="#000" transform="translate(24.90 262.50) scale(1 1.08)">0.8</text>
<text x="0" y="0" font-family='"Liberation Serif", serif' font-size="13.3" font-weight="bold" text-anchor="middle" fill="#000" transform="translate(124.70 419.50) scale(1 1.08)">Batch size</text>
<text x="0" y="0" font-family='"Liberation Serif", serif' font-size="13.3" font-weight="bold" text-anchor="middle" fill="#000" transform="translate(11.30 304.20) rotate(-90) scale(1 1.08)">Score</text>
<polyline points="36.59,269.27 72.15,275.77 107.72,266.98 143.28,276.91 178.85,278.82 214.41,286.08" fill="none" stroke="#f1ab45" stroke-width="0.95"/>
<circle cx="36.59" cy="269.27" r="1.8" fill="#f1ab45"/>
<circle cx="72.15" cy="275.77" r="1.1" fill="#f1ab45"/>
<circle cx="107.72" cy="266.98" r="1.1" fill="#f1ab45"/>
<circle cx="143.28" cy="276.91" r="1.1" fill="#f1ab45"/>
<circle cx="178.85" cy="278.82" r="1.1" fill="#f1ab45"/>
<circle cx="214.41" cy="286.08" r="1.1" fill="#f1ab45"/>
<polyline points="36.59,354.85 72.15,366.69 107.72,349.50 143.28,369.75 178.85,373.57 214.41,388.47" fill="none" stroke="#1b7d8e" stroke-width="0.95"/>
<polygon points="36.59,351.65 33.89,356.75 39.29,356.75" fill="#1b7d8e"/>
<circle cx="72.15" cy="366.69" r="1.1" fill="#1b7d8e"/>
<circle cx="107.72" cy="349.50" r="1.1" fill="#1b7d8e"/>
<circle cx="143.28" cy="369.75" r="1.1" fill="#1b7d8e"/>
<circle cx="178.85" cy="373.57" r="1.1" fill="#1b7d8e"/>
<circle cx="214.41" cy="388.47" r="1.1" fill="#1b7d8e"/>
<polyline points="36.59,231.83 72.15,239.85 107.72,234.89 143.28,241.00 178.85,247.50 214.41,252.84" fill="none" stroke="#d64b65" stroke-width="0.95"/>
<circle cx="36.59" cy="231.83" r="2.4" fill="#d64b65"/>
<circle cx="72.15" cy="239.85" r="1.1" fill="#d64b65"/>
<circle cx="107.72" cy="234.89" r="1.1" fill="#d64b65"/>
<circle cx="143.28" cy="241.00" r="1.1" fill="#d64b65"/>
<circle cx="178.85" cy="247.50" r="1.1" fill="#d64b65"/>
<circle cx="214.41" cy="252.84" r="1.1" fill="#d64b65"/>
<rect x="164.20" y="293.40" width="53.30" height="33.50" rx="2" fill="#fff" fill-opacity="0.85" stroke="#dcdcdc" stroke-width="0.8"/>
<line x1="168.70" y1="299.10" x2="183.80" y2="299.10" stroke="#f1ab45" stroke-width="1.05"/>
<circle cx="176.20" cy="299.10" r="1.2" fill="#f1ab45"/>
<text x="0" y="0" font-family='"Liberation Serif", serif' font-size="10.4" font-weight="bold" text-anchor="start" fill="#000" transform="translate(189.20 302.10) scale(1 1.08)">Acc</text>
<line x1="168.70" y1="309.70" x2="183.80" y2="309.70" stroke="#1b7d8e" stroke-width="1.05"/>
<circle cx="176.20" cy="309.70" r="1.2" fill="#1b7d8e"/>
<text x="0" y="0" font-family='"Liberation Serif", serif' font-size="10.4" font-weight="bold" text-anchor="start" fill="#000" transform="translate(189.20 312.70) scale(1 1.08)">MCC</text>
<line x1="168.70" y1="320.30" x2="183.80" y2="320.30" stroke="#d64b65" stroke-width="1.05"/>
<circle cx="176.20" cy="320.30" r="1.2" fill="#d64b65"/>
<text x="0" y="0" font-family='"Liberation Serif", serif' font-size="10.4" font-weight="bold" text-anchor="start" fill="#000" transform="translate(189.20 323.30) scale(1 1.08)">AUC</text>
<text x="0" y="0" font-family='"Liberation Sans", sans-serif' font-size="15" font-weight="bold" text-anchor="start" fill="#000" transform="translate(0.70 219.40) scale(1 1.0)">D</text>
<line x1="263.60" y1="224.00" x2="263.60" y2="396.30" stroke="#ebebeb" stroke-width="0.8"/>
<line x1="299.22" y1="224.00" x2="299.22" y2="396.30" stroke="#ebebeb" stroke-width="0.8"/>
<line x1="334.84" y1="224.00" x2="334.84" y2="396.30" stroke="#ebebeb" stroke-width="0.8"/>
<line x1="370.46" y1="224.00" x2="370.46" y2="396.30" stroke="#ebebeb" stroke-width="0.8"/>
<line x1="406.08" y1="224.00" x2="406.08" y2="396.30" stroke="#ebebeb" stroke-width="0.8"/>
<line x1="441.70" y1="224.00" x2="441.70" y2="396.30" stroke="#ebebeb" stroke-width="0.8"/>
<line x1="254.70" y1="369.03" x2="450.60" y2="369.03" stroke="#ebebeb" stroke-width="0.8"/>
<line x1="254.70" y1="332.34" x2="450.60" y2="332.34" stroke="#ebebeb" stroke-width="0.8"/>
<line x1="254.70" y1="295.66" x2="450.60" y2="295.66" stroke="#ebebeb" stroke-width="0.8"/>
<line x1="254.70" y1="258.98" x2="450.60" y2="258.98" stroke="#ebebeb" stroke-width="0.8"/>
<rect x="254.70" y="224.00" width="195.90" height="172.30" fill="none" stroke="#858585" stroke-width="1.1"/>
<line x1="263.60" y1="396.30" x2="263.60" y2="398.30" stroke="#444" stroke-width="0.8"/>
<text x="0" y="0" font-family='"Liberation Serif", serif' font-size="10.4" font-weight="bold" text-anchor="middle" fill="#000" transform="translate(262.60 406.60) scale(1 1.08)">1e-05</text>
<line x1="299.22" y1="396.30" x2="299.22" y2="398.30" stroke="#444" stroke-width="0.8"/>
<text x="0" y="0" font-family='"Liberation Serif", serif' font-size="10.4" font-weight="bold" text-anchor="middle" fill="#000" transform="translate(298.22 406.60) scale(1 1.08)">5e-05</text>
<line x1="334.84" y1="396.30" x2="334.84" y2="398.30" stroke="#444" stroke-width="0.8"/>
<text x="0" y="0" font-family='"Liberation Serif", serif' font-size="10.4" font-weight="bold" text-anchor="middle" fill="#000" transform="translate(333.84 406.60) scale(1 1.08)">0.0001</text>
<line x1="370.46" y1="396.30" x2="370.46" y2="398.30" stroke="#444" stroke-width="0.8"/>
<text x="0" y="0" font-family='"Liberation Serif", serif' font-size="10.4" font-weight="bold" text-anchor="middle" fill="#000" transform="translate(369.46 406.60) scale(1 1.08)">0.0005</text>
<line x1="406.08" y1="396.30" x2="406.08" y2="398.30" stroke="#444" stroke-width="0.8"/>
<text x="0" y="0" font-family='"Liberation Serif", serif' font-size="10.4" font-weight="bold" text-anchor="middle" fill="#000" transform="translate(405.08 406.60) scale(1 1.08)">0.001</text>
<line x1="441.70" y1="396.30" x2="441.70" y2="398.30" stroke="#444" stroke-width="0.8"/>
<text x="0" y="0" font-family='"Liberation Serif", serif' font-size="10.4" font-weight="bold" text-anchor="middle" fill="#000" transform="translate(440.70 406.60) scale(1 1.08)">0.005</text>
<line x1="252.70" y1="369.03" x2="254.70" y2="369.03" stroke="#444" stroke-width="0.8"/>
<text x="0" y="0" font-family='"Liberation Serif", serif' font-size="10.4" font-weight="bold" text-anchor="end" fill="#000" transform="translate(251.90 371.43) scale(1 1.08)">0.5</text>
<line x1="252.70" y1="332.34" x2="254.70" y2="332.34" stroke="#444" stroke-width="0.8"/>
<text x="0" y="0" font-family='"Liberation Serif", serif' font-size="10.4" font-weight="bold" text-anchor="end" fill="#000" transform="translate(251.90 334.74) scale(1 1.08)">0.6</text>
<line x1="252.70" y1="295.66" x2="254.70" y2="295.66" stroke="#444" stroke-width="0.8"/>
<text x="0" y="0" font-family='"Liberation Serif", serif' font-size="10.4" font-weight="bold" text-anchor="end" fill="#000" transform="translate(251.90 298.06) scale(1 1.08)">0.7</text>
<line x1="252.70" y1="258.98" x2="254.70" y2="258.98" stroke="#444" stroke-width="0.8"/>
<text x="0" y="0" font-family='"Liberation Serif", serif' font-size="10.4" font-weight="bold" text-anchor="end" fill="#000" transform="translate(251.90 261.38) scale(1 1.08)">0.8</text>
<text x="0" y="0" font-family='"Liberation Serif", serif' font-size="13.3" font-weight="bold" text-anchor="middle" fill="#000" transform="translate(351.25 419.50) scale(1 1.08)">Learning rate</text>
<text x="0" y="0" font-family='"Liberation Serif", serif' font-size="13.3" font-weight="bold" text-anchor="middle" fill="#000" transform="translate(238.20 304.20) rotate(-90) scale(1 1.08)">Score</text>
<polyline points="263.60,287.22 299.22,285.76 334.84,274.38 370.46,267.78 406.08,269.62 441.70,271.08" fill="none" stroke="#f1ab45" stroke-width="0.95"/>
<circle cx="263.60" cy="287.22" r="1.1" fill="#f1ab45"/>
<circle cx="299.22" cy="285.76" r="1.1" fill="#f1ab45"/>
<circle cx="334.84" cy="274.38" r="1.1" fill="#f1ab45"/>
<circle cx="370.46" cy="267.78" r="1.8" fill="#f1ab45"/>
<circle cx="406.08" cy="269.62" r="1.1" fill="#f1ab45"/>
<circle cx="441.70" cy="271.08" r="1.1" fill="#f1ab45"/>
<polyline points="263.60,388.47 299.22,385.90 334.84,362.06 370.46,349.95 406.08,353.99 441.70,353.62" fill="none" stroke="#1b7d8e" stroke-width="0.95"/>
<circle cx="263.60" cy="388.47" r="1.1" fill="#1b7d8e"/>
<circle cx="299.22" cy="385.90" r="1.1" fill="#1b7d8e"/>
<circle cx="334.84" cy="362.06" r="1.1" fill="#1b7d8e"/>
<polygon points="370.46,346.75 367.76,351.85 373.16,351.85" fill="#1b7d8e"/>
<circle cx="406.08" cy="353.99" r="1.1" fill="#1b7d8e"/>
<circle cx="441.70" cy="353.62" r="1.1" fill="#1b7d8e"/>
<polyline points="263.60,262.28 299.22,257.14 334.84,249.44 370.46,231.83 406.08,239.54 441.70,245.04" fill="none" stroke="#d64b65" stroke-width="0.95"/>
<circle cx="263.60" cy="262.28" r="1.1" fill="#d64b65"/>
<circle cx="299.22" cy="257.14" r="1.1" fill="#d64b65"/>
<circle cx="334.84" cy="249.44" r="1.1" fill="#d64b65"/>
<circle cx="370.46" cy="231.83" r="2.4" fill="#d64b65"/>
<circle cx="406.08" cy="239.54" r="1.1" fill="#d64b65"/>
<circle cx="441.70" cy="245.04" r="1.1" fill="#d64b65"/>
<rect x="391.50" y="293.40" width="53.30" height="33.50" rx="2" fill="#fff" fill-opacity="0.85" stroke="#dcdcdc" stroke-width="0.8"/>
<line x1="396.00" y1="299.10" x2="411.10" y2="299.10" stroke="#f1ab45" stroke-width="1.05"/>
<circle cx="403.50" cy="299.10" r="1.2" fill="#f1ab45"/>
<text x="0" y="0" font-family='"Liberation Serif", serif' font-size="10.4" font-weight="bold" text-anchor="start" fill="#000" transform="translate(416.50 302.10) scale(1 1.08)">Acc</text>
<line x1="396.00" y1="309.70" x2="411.10" y2="309.70" stroke="#1b7d8e" stroke-width="1.05"/>
<circle cx="403.50" cy="309.70" r="1.2" fill="#1b7d8e"/>
<text x="0" y="0" font-family='"Liberation Serif", serif' font-size="10.4" font-weight="bold" text-anchor="start" fill="#000" transform="translate(416.50 312.70) scale(1 1.08)">MCC</text>
<line x1="396.00" y1="320.30" x2="411.10" y2="320.30" stroke="#d64b65" stroke-width="1.05"/>
<circle cx="403.50" cy="320.30" r="1.2" fill="#d64b65"/>
<text x="0" y="0" font-family='"Liberation Serif", serif' font-size="10.4" font-weight="bold" text-anchor="start" fill="#000" transform="translate(416.50 323.30) scale(1 1.08)">AUC</text>
<text x="0" y="0" font-family='"Liberation Sans", sans-serif' font-size="15" font-weight="bold" text-anchor="start" fill="#000" transform="translate(238.30 219.40) scale(1 1.0)">E</text>
<line x1="496.18" y1="224.50" x2="496.18" y2="396.30" stroke="#ebebeb" stroke-width="0.8"/>
<line x1="540.56" y1="224.50" x2="540.56" y2="396.30" stroke="#ebebeb" stroke-width="0.8"/>
<line x1="584.95" y1="224.50" x2="584.95" y2="396.30" stroke="#ebebeb" stroke-width="0.8"/>
<line x1="629.34" y1="224.50" x2="629.34" y2="396.30" stroke="#ebebeb" stroke-width="0.8"/>
<line x1="673.72" y1="224.50" x2="673.72" y2="396.30" stroke="#ebebeb" stroke-width="0.8"/>
<line x1="487.30" y1="375.94" x2="682.60" y2="375.94" stroke="#ebebeb" stroke-width="0.8"/>
<line x1="487.30" y1="354.31" x2="682.60" y2="354.31" stroke="#ebebeb" stroke-width="0.8"/>
<line x1="487.30" y1="332.68" x2="682.60" y2="332.68" stroke="#ebebeb" stroke-width="0.8"/>
<line x1="487.30" y1="311.05" x2="682.60" y2="311.05" stroke="#ebebeb" stroke-width="0.8"/>
<line x1="487.30" y1="289.42" x2="682.60" y2="289.42" stroke="#ebebeb" stroke-width="0.8"/>
<line x1="487.30" y1="267.79" x2="682.60" y2="267.79" stroke="#ebebeb" stroke-width="0.8"/>
<line x1="487.30" y1="246.15" x2="682.60" y2="246.15" stroke="#ebebeb" stroke-width="0.8"/>
<line x1="487.30" y1="224.52" x2="682.60" y2="224.52" stroke="#ebebeb" stroke-width="0.8"/>
<rect x="487.30" y="224.50" width="195.30" height="171.80" fill="none" stroke="#858585" stroke-width="1.1"/>
<line x1="496.18" y1="396.30" x2="496.18" y2="398.30" stroke="#444" stroke-width="0.8"/>
<text x="0" y="0" font-family='"Liberation Serif", serif' font-size="10.4" font-weight="bold" text-anchor="middle" fill="#000" transform="translate(495.18 406.60) scale(1 1.08)">64</text>
<line x1="540.56" y1="396.30" x2="540.56" y2="398.30" stroke="#444" stroke-width="0.8"/>
<text x="0" y="0" font-family='"Liberation Serif", serif' font-size="10.4" font-weight="bold" text-anchor="middle" fill="#000" transform="translate(539.56 406.60) scale(1 1.08)">128</text>
<line x1="584.95" y1="396.30" x2="584.95" y2="398.30" stroke="#444" stroke-width="0.8"/>
<text x="0" y="0" font-family='"Liberation Serif", serif' font-size="10.4" font-weight="bold" text-anchor="middle" fill="#000" transform="translate(583.95 406.60) scale(1 1.08)">256</text>
<line x1="629.34" y1="396.30" x2="629.34" y2="398.30" stroke="#444" stroke-width="0.8"/>
<text x="0" y="0" font-family='"Liberation Serif", serif' font-size="10.4" font-weight="bold" text-anchor="middle" fill="#000" transform="translate(628.34 406.60) scale(1 1.08)">512</text>
<line x1="673.72" y1="396.30" x2="673.72" y2="398.30" stroke="#444" stroke-width="0.8"/>
<text x="0" y="0" font-family='"Liberation Serif", serif' font-size="10.4" font-weight="bold" text-anchor="middle" fill="#000" transform="translate(672.72 406.60) scale(1 1.08)">1024</text>
<line x1="485.30" y1="375.94" x2="487.30" y2="375.94" stroke="#444" stroke-width="0.8"/>
<text x="0" y="0" font-family='"Liberation Serif", serif' font-size="10.4" font-weight="bold" text-anchor="end" fill="#000" transform="translate(484.50 378.34) scale(1 1.08)">0.55</text>
<line x1="485.30" y1="354.31" x2="487.30" y2="354.31" stroke="#444" stroke-width="0.8"/>
<text x="0" y="0" font-family='"Liberation Serif", serif' font-size="10.4" font-weight="bold" text-anchor="end" fill="#000" transform="translate(484.50 356.71) scale(1 1.08)">0.60</text>
<line x1="485.30" y1="332.68" x2="487.30" y2="332.68" stroke="#444" stroke-width="0.8"/>
<text x="0" y="0" font-family='"Liberation Serif", serif' font-size="10.4" font-weight="bold" text-anchor="end" fill="#000" transform="translate(484.50 335.08) scale(1 1.08)">0.65</text>
<line x1="485.30" y1="311.05" x2="487.30" y2="311.05" stroke="#444" stroke-width="0.8"/>
<text x="0" y="0" font-family='"Liberation Serif", serif' font-size="10.4" font-weight="bold" text-anchor="end" fill="#000" transform="translate(484.50 313.45) scale(1 1.08)">0.70</text>
<line x1="485.30" y1="289.42" x2="487.30" y2="289.42" stroke="#444" stroke-width="0.8"/>
<text x="0" y="0" font-family='"Liberation Serif", serif' font-size="10.4" font-weight="bold" text-anchor="end" fill="#000" transform="translate(484.50 291.82) scale(1 1.08)">0.75</text>
<line x1="485.30" y1="267.79" x2="487.30" y2="267.79" stroke="#444" stroke-width="0.8"/>
<text x="0" y="0" font-family='"Liberation Serif", serif' font-size="10.4" font-weight="bold" text-anchor="end" fill="#000" transform="translate(484.50 270.19) scale(1 1.08)">0.80</text>
<line x1="485.30" y1="246.15" x2="487.30" y2="246.15" stroke="#444" stroke-width="0.8"/>
<text x="0" y="0" font-family='"Liberation Serif", serif' font-size="10.4" font-weight="bold" text-anchor="end" fill="#000" transform="translate(484.50 248.55) scale(1 1.08)">0.85</text>
<line x1="485.30" y1="224.52" x2="487.30" y2="224.52" stroke="#444" stroke-width="0.8"/>
<text x="0" y="0" font-family='"Liberation Serif", serif' font-size="10.4" font-weight="bold" text-anchor="end" fill="#000" transform="translate(484.50 226.92) scale(1 1.08)">0.90</text>
<text x="0" y="0" font-family='"Liberation Serif", serif' font-size="13.3" font-weight="bold" text-anchor="middle" fill="#000" transform="translate(587.45 419.50) scale(1 1.08)">Sequence length</text>
<text x="0" y="0" font-family='"Liberation Serif", serif' font-size="13.3" font-weight="bold" text-anchor="middle" fill="#000" transform="translate(463.00 304.20) rotate(-90) scale(1 1.08)">Score</text>
<polyline points="496.18,277.74 540.56,284.66 584.95,271.03 629.34,276.44 673.72,272.54" fill="none" stroke="#f1ab45" stroke-width="0.95"/>
<circle cx="496.18" cy="277.74" r="1.1" fill="#f1ab45"/>
<circle cx="540.56" cy="284.66" r="1.1" fill="#f1ab45"/>
<circle cx="584.95" cy="271.03" r="1.8" fill="#f1ab45"/>
<circle cx="629.34" cy="276.44" r="1.1" fill="#f1ab45"/>
<circle cx="673.72" cy="272.54" r="1.1" fill="#f1ab45"/>
<polyline points="496.18,373.78 540.56,388.49 584.95,360.37 629.34,370.75 673.72,362.53" fill="none" stroke="#1b7d8e" stroke-width="0.95"/>
<circle cx="496.18" cy="373.78" r="1.1" fill="#1b7d8e"/>
<circle cx="540.56" cy="388.49" r="1.1" fill="#1b7d8e"/>
<polygon points="584.95,357.17 582.25,362.27 587.65,362.27" fill="#1b7d8e"/>
<circle cx="629.34" cy="370.75" r="1.1" fill="#1b7d8e"/>
<circle cx="673.72" cy="362.53" r="1.1" fill="#1b7d8e"/>
<polyline points="496.18,237.93 540.56,243.13 584.95,232.31 629.34,236.20 673.72,239.66" fill="none" stroke="#d64b65" stroke-width="0.95"/>
<circle cx="496.18" cy="237.93" r="1.1" fill="#d64b65"/>
<circle cx="540.56" cy="243.13" r="1.1" fill="#d64b65"/>
<circle cx="584.95" cy="232.31" r="2.4" fill="#d64b65"/>
<circle cx="629.34" cy="236.20" r="1.1" fill="#d64b65"/>
<circle cx="673.72" cy="239.66" r="1.1" fill="#d64b65"/>
<rect x="623.50" y="293.40" width="53.30" height="33.50" rx="2" fill="#fff" fill-opacity="0.85" stroke="#dcdcdc" stroke-width="0.8"/>
<line x1="628.00" y1="299.10" x2="643.10" y2="299.10" stroke="#f1ab45" stroke-width="1.05"/>
<circle cx="635.50" cy="299.10" r="1.2" fill="#f1ab45"/>
<text x="0" y="0" font-family='"Liberation Serif", serif' font-size="10.4" font-weight="bold" text-anchor="start" fill="#000" transform="translate(648.50 302.10) scale(1 1.08)">Acc</text>
<line x1="628.00" y1="309.70" x2="643.10" y2="309.70" stroke="#1b7d8e" stroke-width="1.05"/>
<circle cx="635.50" cy="309.70" r="1.2" fill="#1b7d8e"/>
<text x="0" y="0" font-family='"Liberation Serif", serif' font-size="10.4" font-weight="bold" text-anchor="start" fill="#000" transform="translate(648.50 312.70) scale(1 1.08)">MCC</text>
<line x1="628.00" y1="320.30" x2="643.10" y2="320.30" stroke="#d64b65" stroke-width="1.05"/>
<circle cx="635.50" cy="320.30" r="1.2" fill="#d64b65"/>
<text x="0" y="0" font-family='"Liberation Serif", serif' font-size="10.4" font-weight="bold" text-anchor="start" fill="#000" transform="translate(648.50 323.30) scale(1 1.08)">AUC</text>
<text x="0" y="0" font-family='"Liberation Sans", sans-serif' font-size="15" font-weight="bold" text-anchor="start" fill="#000" transform="translate(457.20 219.20) scale(1 1.0)">F</text>
<line x1="144.38" y1="449.50" x2="144.38" y2="634.70" stroke="#ebebeb" stroke-width="0.8"/>
<line x1="182.46" y1="449.50" x2="182.46" y2="634.70" stroke="#ebebeb" stroke-width="0.8"/>
<line x1="220.54" y1="449.50" x2="220.54" y2="634.70" stroke="#ebebeb" stroke-width="0.8"/>
<line x1="258.62" y1="449.50" x2="258.62" y2="634.70" stroke="#ebebeb" stroke-width="0.8"/>
<line x1="106.30" y1="599.42" x2="296.70" y2="599.42" stroke="#ebebeb" stroke-width="0.8"/>
<line x1="106.30" y1="564.15" x2="296.70" y2="564.15" stroke="#ebebeb" stroke-width="0.8"/>
<line x1="106.30" y1="528.87" x2="296.70" y2="528.87" stroke="#ebebeb" stroke-width="0.8"/>
<line x1="106.30" y1="493.60" x2="296.70" y2="493.60" stroke="#ebebeb" stroke-width="0.8"/>
<line x1="106.30" y1="458.32" x2="296.70" y2="458.32" stroke="#ebebeb" stroke-width="0.8"/>
<line x1="106.30" y1="634.70" x2="296.70" y2="458.32" stroke="#2a2aa2" stroke-width="1.35" stroke-dasharray="2.8 1.3"/>
<polyline points="107.00,634.70 107.30,634.70 107.30,634.40 107.30,632.67 107.40,632.67 107.40,631.35 107.47,631.35 107.56,631.35 107.56,629.80 107.56,629.09 107.60,629.09 107.60,627.25 107.70,627.25 107.70,627.20 107.70,627.20 107.80,627.20 107.80,625.99 107.87,625.99 107.87,625.10 107.87,623.21 108.03,623.21 108.08,623.21 108.08,622.62 108.08,620.67 108.24,620.67 108.24,619.80 108.31,619.80 108.31,619.20 108.36,619.20 108.36,618.00 108.46,618.00 108.46,617.10 108.53,617.10 108.53,616.30 108.60,616.30 108.60,615.29 108.66,615.29 108.76,615.29 108.76,613.45 108.76,611.91 108.84,611.91 108.96,611.91 108.96,609.84 108.96,609.08 109.00,609.08 109.09,609.08 109.09,607.42 109.09,607.20 109.10,607.20 109.27,607.20 109.27,605.45 109.37,605.45 109.37,604.46 109.55,604.46 109.55,602.63 109.68,602.63 109.68,601.35 109.68,600.75 109.74,600.75 109.74,599.04 109.91,599.04 109.99,599.04 109.99,598.24 110.00,598.24 110.00,598.10 110.00,597.01 110.11,597.01 110.24,597.01 110.24,595.72 110.24,594.42 110.37,594.42 110.37,593.16 110.49,593.16 110.55,593.16 110.55,592.55 110.75,592.55 110.75,590.58 110.75,589.46 110.86,589.46 110.90,589.46 110.90,589.10 111.06,589.10 111.06,587.43 111.06,585.63 111.24,585.63 111.37,585.63 111.37,584.34 111.37,582.95 111.51,582.95 111.60,582.95 111.60,582.01 111.60,580.07 111.79,580.07 111.80,580.07 111.80,580.00 111.94,580.00 111.94,578.12 112.07,578.12 112.07,576.36 112.07,574.97 112.18,574.97 112.23,574.97 112.23,574.33 112.23,572.92 112.33,572.92 112.33,571.61 112.43,571.61 112.43,570.52 112.51,570.52 112.61,570.52 112.61,569.16 112.61,568.00 112.70,568.00 112.70,567.45 112.80,567.45 112.93,567.45 112.93,566.70 113.23,566.70 113.23,565.03 113.52,565.03 113.52,563.44 113.67,563.44 113.67,562.58 113.67,561.16 113.93,561.16 113.93,560.63 114.03,560.63 114.03,559.10 114.30,559.10 114.42,559.10 114.42,558.44 114.42,558.00 114.50,558.00 114.62,558.00 114.62,557.27 114.62,556.52 114.75,556.52 114.75,555.03 114.99,555.03 114.99,554.08 115.15,554.08 115.15,553.53 115.25,553.53 115.25,552.44 115.43,552.44 115.54,552.44 115.54,551.77 115.54,550.56 115.74,550.56 115.96,550.56 115.96,549.22 115.96,549.00 116.00,549.00 116.13,549.00 116.13,548.30 116.27,548.30 116.27,547.58 116.53,547.58 116.53,546.16 116.68,546.16 116.68,545.35 116.98,545.35 116.98,543.77 117.13,543.77 117.13,542.97 117.33,542.97 117.33,541.93 117.50,541.93 117.50,541.00 117.50,540.51 117.70,540.51 118.34,540.51 118.34,538.99 118.66,538.99 118.66,538.22 118.98,538.22 118.98,537.45 118.98,536.19 119.51,536.19 119.51,535.48 119.80,535.48 119.80,535.00 120.00,535.00 120.64,535.00 120.64,533.73 120.64,532.72 121.14,532.72 121.80,532.72 121.80,531.39 122.38,531.39 122.38,530.24 122.38,530.00 122.50,530.00 122.81,530.00 122.81,529.38 122.81,528.52 123.24,528.52 123.50,528.52 123.50,528.01 123.50,527.29 123.85,527.29 124.23,527.29 124.23,526.54 124.23,525.18 124.91,525.18 124.91,524.57 125.21,524.57 125.50,524.57 125.50,524.00 125.50,523.19 125.84,523.19 126.33,523.19 126.33,522.01 126.33,520.53 126.95,520.53 127.54,520.53 127.54,519.11 127.94,519.11 127.94,518.14 128.00,518.14 128.00,518.00 128.00,517.51 128.25,517.51 128.25,516.14 128.93,516.14 129.54,516.14 129.54,514.93 129.54,513.63 130.18,513.63 130.18,512.87 130.57,512.87 131.23,512.87 131.23,511.54 131.94,511.54 131.94,510.12 132.00,510.12 132.00,510.00 132.00,509.54 132.31,509.54 132.59,509.54 132.59,509.11 133.34,509.11 133.34,507.99 133.80,507.99 133.80,507.31 133.80,506.20 134.54,506.20 134.54,505.29 135.14,505.29 135.14,504.85 135.43,504.85 136.00,504.85 136.00,504.00 136.00,502.72 136.80,502.72 137.20,502.72 137.20,502.08 137.20,500.89 137.94,500.89 137.94,500.00 138.50,500.00 138.79,500.00 138.79,499.51 138.79,499.09 139.04,499.09 139.04,497.73 139.86,497.73 139.86,497.24 140.16,497.24 140.30,497.24 140.30,497.00 140.68,497.00 140.68,496.61 141.27,496.61 141.27,496.00 141.27,494.97 142.29,494.97 142.29,494.46 142.79,494.46 143.17,494.46 143.17,494.08 143.17,493.74 143.49,493.74 143.49,492.64 144.57,492.64 144.57,492.10 145.10,492.10 145.10,491.73 145.83,491.73 147.21,491.73 147.21,491.05 147.21,490.33 148.64,490.33 149.27,490.33 149.27,490.01 150.50,490.01 150.50,489.40 151.41,489.40 151.41,488.61 151.95,488.61 151.95,488.14 151.95,487.63 152.53,487.63 152.53,487.29 152.92,487.29 152.92,486.28 154.09,486.28 154.96,486.28 154.96,485.51 154.96,484.53 156.09,484.53 156.09,484.02 156.67,484.02 157.26,484.02 157.26,483.51 157.26,483.30 157.50,483.30 158.26,483.30 158.26,482.93 159.29,482.93 159.29,482.42 159.29,482.10 159.95,482.10 159.95,481.77 160.62,481.77 160.62,481.28 161.61,481.28 162.09,481.28 162.09,481.05 162.80,481.05 162.80,480.70 163.55,480.70 163.55,480.06 164.01,480.06 164.01,479.68 164.01,478.82 165.03,478.82 165.03,477.85 166.17,477.85 167.17,477.85 167.17,477.00 167.17,476.30 168.00,476.30 168.44,476.30 168.44,475.97 168.44,475.10 169.64,475.10 169.64,474.23 170.81,474.23 170.81,473.36 171.99,473.36 172.63,473.36 172.63,472.89 173.30,472.89 173.30,472.40 174.54,472.40 174.54,471.70 174.54,471.09 175.63,471.09 175.63,470.62 176.46,470.62 177.58,470.62 177.58,469.99 177.58,469.63 178.22,469.63 179.59,469.63 179.59,468.86 180.53,468.86 180.53,468.33 180.53,467.62 181.79,467.62 181.79,467.50 182.00,467.50 182.00,467.38 182.90,467.38 182.90,467.20 184.35,467.20 184.35,467.03 185.69,467.03 185.69,466.89 186.72,466.89 186.72,466.80 187.43,466.80 187.43,466.60 189.00,466.60 190.00,466.60 190.00,466.36 190.00,466.17 190.78,466.17 191.95,466.17 191.95,465.88 191.95,465.56 193.26,465.56 194.63,465.56 194.63,465.23 194.63,465.04 195.42,465.04 195.42,464.90 196.00,464.90 196.89,464.90 196.89,464.53 198.35,464.53 198.35,463.94 199.09,463.94 199.09,463.64 199.09,463.44 199.57,463.44 200.40,463.44 200.40,463.10 201.19,463.10 201.19,463.04 201.19,462.89 203.05,462.89 204.63,462.89 204.63,462.76 205.74,462.76 205.74,462.67 206.60,462.67 206.60,462.60 208.28,462.60 208.28,462.31 210.11,462.31 210.11,462.00 210.11,461.87 210.86,461.87 211.67,461.87 211.67,461.73 211.67,461.47 213.21,461.47 213.60,461.47 213.60,461.40 214.62,461.40 214.62,461.27 215.39,461.27 215.39,461.17 215.98,461.17 215.98,461.09 217.66,461.09 217.66,460.88 218.57,460.88 218.57,460.76 218.57,460.52 220.46,460.52 220.60,460.52 220.60,460.50 222.11,460.50 222.11,460.35 223.30,460.35 223.30,460.23 223.30,460.03 225.26,460.03 225.26,459.86 226.97,459.86 226.97,459.78 227.75,459.78 228.48,459.78 228.48,459.71 228.48,459.52 230.42,459.52 230.42,459.38 231.84,459.38 231.84,459.30 232.56,459.30 233.47,459.30 233.47,459.21 233.47,459.16 234.02,459.16 234.02,459.10 234.60,459.10 236.13,459.10 236.13,459.03 236.13,458.94 237.98,458.94 238.99,458.94 238.99,458.89 239.98,458.89 239.98,458.84 240.93,458.84 240.93,458.80 242.71,458.80 242.71,458.71 244.77,458.71 244.77,458.62 245.10,458.62 245.10,458.60 246.93,458.60 246.93,458.60 246.93,458.60 248.14,458.60 248.92,458.60 248.92,458.60 249.71,458.60 249.71,458.60 251.18,458.60 251.18,458.60 253.00,458.60 253.00,458.60 253.81,458.60 253.81,458.60 253.81,458.60 255.33,458.60 255.33,458.60 256.74,458.60 256.74,458.60 258.18,458.60 258.18,458.60 259.49,458.60 259.49,458.60 260.58,458.60 262.43,458.60 262.43,458.60 263.82,458.60 263.82,458.60 263.82,458.60 265.02,458.60 265.02,458.60 265.63,458.60 267.18,458.60 267.18,458.60 269.11,458.60 269.11,458.60 269.11,458.60 271.29,458.60 271.29,458.60 273.23,458.60 275.02,458.60 275.02,458.60 275.02,458.60 276.11,458.60 277.70,458.60 277.70,458.60 277.70,458.60 278.87,458.60 278.87,458.60 280.10,458.60 281.34,458.60 281.34,458.60 282.88,458.60 282.88,458.60 284.92,458.60 284.92,458.60 286.30,458.60 286.30,458.60 287.93,458.60 287.93,458.60 287.93,458.60 289.54,458.60 291.14,458.60 291.14,458.60 293.24,458.60 293.24,458.60 295.20,458.60 295.20,458.60 296.50,458.60 296.50,458.60" fill="none" stroke="#f06a78" stroke-width="1.15" stroke-linejoin="round"/>
<polyline points="106.50,634.70 106.51,634.70 106.51,632.58 106.51,631.90 106.52,631.90 106.53,631.90 106.53,629.98 106.53,628.31 106.54,628.31 106.55,628.31 106.55,626.76 106.55,625.24 106.56,625.24 106.56,623.96 106.57,623.96 106.58,623.96 106.58,622.21 106.60,622.21 106.60,620.11 106.60,620.00 106.60,620.00 106.60,619.38 106.63,619.38 106.63,618.10 106.70,618.10 106.77,618.10 106.77,616.96 106.84,616.96 106.84,615.59 106.84,614.66 106.89,614.66 106.89,613.60 106.95,613.60 107.02,613.60 107.02,612.26 107.02,610.67 107.11,610.67 107.22,610.67 107.22,608.74 107.30,608.74 107.30,607.20 107.53,607.20 107.53,605.61 107.67,605.61 107.67,604.59 107.67,602.71 107.94,602.71 108.17,602.71 108.17,601.13 108.33,601.13 108.33,599.96 108.51,599.96 108.51,598.75 108.60,598.75 108.60,598.10 108.76,598.10 108.76,597.09 108.76,595.33 109.03,595.33 109.23,595.33 109.23,594.02 109.23,592.50 109.47,592.50 109.47,591.67 109.60,591.67 109.60,590.18 109.83,590.18 109.83,589.10 110.00,589.10 110.00,587.26 110.22,587.26 110.45,587.26 110.45,585.36 110.60,585.36 110.60,584.11 110.78,584.11 110.78,582.64 110.78,581.66 110.90,581.66 111.05,581.66 111.05,580.40 111.05,580.00 111.10,580.00 111.21,580.00 111.21,578.20 111.21,576.26 111.33,576.26 111.33,574.57 111.43,574.57 111.43,573.02 111.52,573.02 111.58,573.02 111.58,572.12 111.62,572.12 111.62,571.39 111.62,569.54 111.74,569.54 111.79,569.54 111.79,568.65 111.80,568.65 111.80,568.50 111.80,567.96 111.91,567.96 112.05,567.96 112.05,567.23 112.18,567.23 112.18,566.62 112.28,566.62 112.28,566.08 112.28,565.56 112.39,565.56 112.39,563.97 112.71,563.97 112.85,563.97 112.85,563.23 112.85,562.21 113.06,562.21 113.06,561.00 113.30,561.00 113.30,560.64 113.60,560.64 114.30,560.64 114.30,559.80 114.30,559.13 114.41,559.13 114.41,558.57 114.50,558.57 114.77,558.57 114.77,557.01 115.06,557.01 115.06,555.26 115.34,555.26 115.34,553.56 115.34,552.60 115.50,552.60 115.50,551.13 115.68,551.13 115.68,550.45 115.77,550.45 115.77,548.67 115.99,548.67 115.99,547.30 116.16,547.30 116.16,546.03 116.31,546.03 116.31,544.13 116.55,544.13 116.55,542.90 116.70,542.90 116.85,542.90 116.85,542.42 116.85,541.79 117.04,541.79 117.04,541.29 117.20,541.29 117.38,541.29 117.38,540.71 117.71,540.71 117.71,539.64 118.20,539.64 118.20,538.04 118.20,537.29 118.43,537.29 118.67,537.29 118.67,536.53 119.05,536.53 119.05,535.31 119.05,533.98 119.46,533.98 119.70,533.98 119.70,533.20 119.70,532.79 119.90,532.79 119.90,531.96 120.32,531.96 120.32,530.79 120.91,530.79 120.91,530.28 121.16,530.28 121.16,529.63 121.48,529.63 121.48,528.68 121.96,528.68 122.10,528.68 122.10,528.40 122.63,528.40 122.63,527.99 123.84,527.99 123.84,527.06 124.57,527.06 124.57,526.49 124.57,526.00 125.20,526.00 125.45,526.00 125.45,524.98 125.45,524.27 125.63,524.27 125.63,522.76 126.00,522.76 126.28,522.76 126.28,521.61 126.28,520.34 126.59,520.34 126.59,518.70 127.00,518.70 127.21,518.70 127.21,518.28 127.21,517.77 127.46,517.77 128.10,517.77 128.10,516.47 128.10,516.05 128.31,516.05 128.31,515.21 128.73,515.21 129.04,515.21 129.04,514.58 129.04,514.10 129.27,514.10 129.67,514.10 129.67,513.30 129.91,513.30 129.91,512.82 130.21,512.82 130.21,512.21 130.21,511.39 130.62,511.39 130.62,510.18 131.21,510.18 131.21,509.65 131.48,509.65 131.72,509.65 131.72,509.16 131.80,509.16 131.80,509.00 131.80,508.22 132.73,508.22 133.63,508.22 133.63,507.47 133.63,506.67 134.59,506.67 134.59,506.13 135.23,506.13 135.23,505.40 136.10,505.40 136.10,504.63 136.77,504.63 137.77,504.63 137.77,503.50 138.74,503.50 138.74,502.38 138.74,501.81 139.24,501.81 139.24,501.07 139.89,501.07 140.30,501.07 140.30,500.60 141.16,500.60 141.16,499.39 141.16,498.28 141.96,498.28 142.45,498.28 142.45,497.60 142.45,497.11 142.80,497.11 142.80,496.70 143.09,496.70 143.94,496.70 143.94,495.52 143.94,494.56 144.62,494.56 144.62,493.94 145.07,493.94 145.10,493.94 145.10,493.90 146.05,493.90 146.05,493.55 146.62,493.55 146.62,493.34 148.17,493.34 148.17,492.77 148.72,492.77 148.72,492.57 148.72,492.10 150.00,492.10 150.00,492.10 150.00,492.10 150.00,491.06 150.69,491.06 151.57,491.06 151.57,489.75 151.57,488.84 152.17,488.84 152.17,488.50 152.40,488.50 153.42,488.50 153.42,487.97 154.01,487.97 154.01,487.66 154.01,487.19 154.91,487.19 156.05,487.19 156.05,486.60 156.05,486.01 157.19,486.01 157.19,486.00 157.20,486.00 158.37,486.00 158.37,485.37 159.55,485.37 159.55,484.74 160.17,484.74 160.17,484.40 160.98,484.40 160.98,483.97 162.39,483.97 162.39,483.21 162.39,482.99 162.79,482.99 163.90,482.99 163.90,482.40 164.69,482.40 164.69,481.55 164.99,481.55 164.99,481.22 165.84,481.22 165.84,480.30 166.30,480.30 166.30,479.80 166.68,479.80 166.68,479.42 166.68,478.49 167.58,478.49 168.47,478.49 168.47,477.59 168.92,477.59 168.92,477.13 169.32,477.13 169.32,476.72 169.32,476.06 169.97,476.06 169.97,475.30 170.71,475.30 171.17,475.30 171.17,474.84 171.17,474.50 171.50,474.50 172.33,474.50 172.33,473.95 173.32,473.95 173.32,473.29 174.15,473.29 174.15,472.75 174.15,472.30 174.84,472.30 174.84,471.74 175.68,471.74 176.12,471.74 176.12,471.45 176.65,471.45 176.65,471.10 176.65,471.00 176.80,471.00 177.87,471.00 177.87,470.39 177.87,469.66 179.12,469.66 179.12,469.35 179.67,469.35 179.67,468.85 180.52,468.85 180.91,468.85 180.91,468.63 180.91,468.00 182.00,468.00 182.00,467.90 183.36,467.90 184.58,467.90 184.58,467.82 185.61,467.82 185.61,467.74 186.89,467.74 186.89,467.65 186.89,467.51 188.81,467.51 188.81,467.50 189.00,467.50 190.31,467.50 190.31,467.18 190.31,466.86 191.64,466.86 191.64,466.48 193.20,466.48 193.20,466.16 194.50,466.16 195.67,466.16 195.67,465.88 196.00,465.88 196.00,465.80 196.00,465.76 197.05,465.76 197.05,465.71 198.34,465.71 199.34,465.71 199.34,465.67 200.09,465.67 200.09,465.65 200.09,465.60 201.26,465.60 201.26,465.60 201.30,465.60 201.30,465.13 202.16,465.13 202.16,464.67 203.01,464.67 204.33,464.67 204.33,463.96 204.80,463.96 204.80,463.70 204.80,463.41 206.60,463.41 206.60,463.31 207.26,463.31 208.04,463.31 208.04,463.19 208.04,463.02 209.07,463.02 209.07,462.76 210.68,462.76 212.32,462.76 212.32,462.50 213.39,462.50 213.39,462.33 213.60,462.33 213.60,462.30 215.44,462.30 215.44,462.06 216.95,462.06 216.95,461.87 218.54,461.87 218.54,461.67 220.30,461.67 220.30,461.44 220.60,461.44 220.60,461.40 221.60,461.40 221.60,461.33 221.60,461.22 223.16,461.22 223.16,461.14 224.31,461.14 224.31,460.99 226.30,460.99 227.57,460.99 227.57,460.90 227.60,460.90 227.60,460.90 227.60,460.77 228.28,460.77 228.28,460.59 229.26,460.59 231.00,460.59 231.00,460.27 231.00,459.98 232.53,459.98 232.53,459.75 233.77,459.75 233.77,459.60 234.60,459.60 235.55,459.60 235.55,459.49 235.55,459.41 236.30,459.41 236.30,459.19 238.17,459.19 238.17,459.11 238.91,459.11 238.91,459.00 239.81,459.00 239.81,458.90 240.71,458.90 240.71,458.80 241.60,458.80 241.60,458.76 243.14,458.76 244.31,458.76 244.31,458.74 244.31,458.72 244.99,458.72 244.99,458.67 246.91,458.67 246.91,458.63 248.71,458.63 250.00,458.63 250.00,458.60 251.14,458.60 251.14,458.60 251.14,458.60 252.72,458.60 252.72,458.60 254.91,458.60 256.27,458.60 256.27,458.60 257.38,458.60 257.38,458.60 258.93,458.60 258.93,458.60 260.40,458.60 260.40,458.60 262.58,458.60 262.58,458.60 262.58,458.60 263.91,458.60 263.91,458.60 265.35,458.60 266.12,458.60 266.12,458.60 266.92,458.60 266.92,458.60 268.61,458.60 268.61,458.60 268.61,458.60 269.33,458.60 269.33,458.60 271.21,458.60 271.21,458.60 271.98,458.60 271.98,458.60 272.86,458.60 272.86,458.60 274.53,458.60 276.68,458.60 276.68,458.60 277.36,458.60 277.36,458.60 277.36,458.60 278.35,458.60 278.35,458.60 279.84,458.60 279.84,458.60 281.25,458.60 282.17,458.60 282.17,458.60 284.08,458.60 284.08,458.60 285.77,458.60 285.77,458.60 285.77,458.60 286.60,458.60 286.60,458.60 287.41,458.60 287.41,458.60 288.18,458.60 288.18,458.60 288.87,458.60 290.07,458.60 290.07,458.60 292.05,458.60 292.05,458.60 293.79,458.60 293.79,458.60 293.79,458.60 295.86,458.60 296.50,458.60 296.50,458.60" fill="none" stroke="#2f8e7e" stroke-width="1.15" stroke-linejoin="round"/>
<rect x="106.30" y="449.50" width="190.40" height="185.20" fill="none" stroke="#a2a2a2" stroke-width="1.2"/>
<line x1="106.30" y1="634.70" x2="106.30" y2="636.70" stroke="#444" stroke-width="0.8"/>
<text x="0" y="0" font-family='"Liberation Serif", serif' font-size="10.4" font-weight="bold" text-anchor="middle" fill="#000" transform="translate(106.30 645.80) scale(1 1.08)">0.0</text>
<line x1="104.30" y1="634.70" x2="106.30" y2="634.70" stroke="#444" stroke-width="0.8"/>
<text x="0" y="0" font-family='"Liberation Serif", serif' font-size="10.4" font-weight="bold" text-anchor="end" fill="#000" transform="translate(103.70 637.30) scale(1 1.08)">0.0</text>
<line x1="144.38" y1="634.70" x2="144.38" y2="636.70" stroke="#444" stroke-width="0.8"/>
<text x="0" y="0" font-family='"Liberation Serif", serif' font-size="10.4" font-weight="bold" text-anchor="middle" fill="#000" transform="translate(144.38 645.80) scale(1 1.08)">0.2</text>
<line x1="104.30" y1="599.42" x2="106.30" y2="599.42" stroke="#444" stroke-width="0.8"/>
<text x="0" y="0" font-family='"Liberation Serif", serif' font-size="10.4" font-weight="bold" text-anchor="end" fill="#000" transform="translate(103.70 602.02) scale(1 1.08)">0.2</text>
<line x1="182.46" y1="634.70" x2="182.46" y2="636.70" stroke="#444" stroke-width="0.8"/>
<text x="0" y="0" font-family='"Liberation Serif", serif' font-size="10.4" font-weight="bold" text-anchor="middle" fill="#000" transform="translate(182.46 645.80) scale(1 1.08)">0.4</text>
<line x1="104.30" y1="564.15" x2="106.30" y2="564.15" stroke="#444" stroke-width="0.8"/>
<text x="0" y="0" font-family='"Liberation Serif", serif' font-size="10.4" font-weight="bold" text-anchor="end" fill="#000" transform="translate(103.70 566.75) scale(1 1.08)">0.4</text>
<line x1="220.54" y1="634.70" x2="220.54" y2="636.70" stroke="#444" stroke-width="0.8"/>
<text x="0" y="0" font-family='"Liberation Serif", serif' font-size="10.4" font-weight="bold" text-anchor="middle" fill="#000" transform="translate(220.54 645.80) scale(1 1.08)">0.6</text>
<line x1="104.30" y1="528.87" x2="106.30" y2="528.87" stroke="#444" stroke-width="0.8"/>
<text x="0" y="0" font-family='"Liberation Serif", serif' font-size="10.4" font-weight="bold" text-anchor="end" fill="#000" transform="translate(103.70 531.47) scale(1 1.08)">0.6</text>
<line x1="258.62" y1="634.70" x2="258.62" y2="636.70" stroke="#444" stroke-width="0.8"/>
<text x="0" y="0" font-family='"Liberation Serif", serif' font-size="10.4" font-weight="bold" text-anchor="middle" fill="#000" transform="translate(258.62 645.80) scale(1 1.08)">0.8</text>
<line x1="104.30" y1="493.60" x2="106.30" y2="493.60" stroke="#444" stroke-width="0.8"/>
<text x="0" y="0" font-family='"Liberation Serif", serif' font-size="10.4" font-weight="bold" text-anchor="end" fill="#000" transform="translate(103.70 496.20) scale(1 1.08)">0.8</text>
<line x1="296.70" y1="634.70" x2="296.70" y2="636.70" stroke="#444" stroke-width="0.8"/>
<text x="0" y="0" font-family='"Liberation Serif", serif' font-size="10.4" font-weight="bold" text-anchor="middle" fill="#000" transform="translate(296.70 645.80) scale(1 1.08)">1.0</text>
<line x1="104.30" y1="458.32" x2="106.30" y2="458.32" stroke="#444" stroke-width="0.8"/>
<text x="0" y="0" font-family='"Liberation Serif", serif' font-size="10.4" font-weight="bold" text-anchor="end" fill="#000" transform="translate(103.70 460.92) scale(1 1.08)">1.0</text>
<text x="0" y="0" font-family='"Liberation Serif", serif' font-size="13.3" font-weight="bold" text-anchor="middle" fill="#000" transform="translate(211.70 444.00) scale(1 1.08)">ROC Curve</text>
<text x="0" y="0" font-family='"Liberation Serif", serif' font-size="13.3" font-weight="bold" text-anchor="middle" fill="#000" transform="translate(205.00 659.60) scale(1 1.08)">False Positive Rate</text>
<text x="0" y="0" font-family='"Liberation Serif", serif' font-size="12.9" font-weight="bold" text-anchor="middle" fill="#000" transform="translate(88.20 537.30) rotate(-90) scale(1 1.08)">True Positive Rate</text>
<rect x="144.4" y="603.8" width="150.6" height="28.6" rx="2" fill="#fff" fill-opacity="0.85" stroke="#dcdcdc" stroke-width="0.8"/>
<line x1="146.10" y1="610.50" x2="158.50" y2="610.50" stroke="#f06a78" stroke-width="1.3"/>
<line x1="146.10" y1="625.60" x2="158.50" y2="625.60" stroke="#2f8e7e" stroke-width="1.3"/>
<text x="0" y="0" font-family='"Liberation Serif", serif' font-size="9.45" font-weight="bold" text-anchor="start" fill="#000" transform="translate(161.00 612.70) scale(1 1.08)">Independent data (AUC = 0.884)</text>
<text x="0" y="0" font-family='"Liberation Serif", serif' font-size="9.45" font-weight="bold" text-anchor="start" fill="#000" transform="translate(161.00 627.80) scale(1 1.08)">Validation data (AUC = 0.883)</text>
<text x="0" y="0" font-family='"Liberation Sans", sans-serif' font-size="15" font-weight="bold" text-anchor="start" fill="#000" transform="translate(80.00 445.30) scale(1 1.0)">G</text>
<line x1="429.80" y1="450.10" x2="429.80" y2="634.80" stroke="#ebebeb" stroke-width="0.8"/>
<line x1="468.00" y1="450.10" x2="468.00" y2="634.80" stroke="#ebebeb" stroke-width="0.8"/>
<line x1="506.20" y1="450.10" x2="506.20" y2="634.80" stroke="#ebebeb" stroke-width="0.8"/>
<line x1="544.40" y1="450.10" x2="544.40" y2="634.80" stroke="#ebebeb" stroke-width="0.8"/>
<line x1="391.60" y1="599.24" x2="582.60" y2="599.24" stroke="#ebebeb" stroke-width="0.8"/>
<line x1="391.60" y1="563.68" x2="582.60" y2="563.68" stroke="#ebebeb" stroke-width="0.8"/>
<line x1="391.60" y1="528.12" x2="582.60" y2="528.12" stroke="#ebebeb" stroke-width="0.8"/>
<line x1="391.60" y1="492.56" x2="582.60" y2="492.56" stroke="#ebebeb" stroke-width="0.8"/>
<line x1="391.60" y1="457.00" x2="582.60" y2="457.00" stroke="#ebebeb" stroke-width="0.8"/>
<polyline points="393.21,457.01 393.21,496.72 395.11,482.12 397.01,469.71 398.47,510.58 400.22,499.64 403.14,489.42 407.52,481.39 411.90,477.01 414.09,476.28 417.74,474.09 421.39,472.63 422.85,474.82 426.50,477.01 428.69,479.20 430.86,476.82 430.91,478.09 432.34,476.28 433.80,479.20 435.99,479.33 436.04,480.53 438.18,480.66 439.95,480.76 440.00,481.97 441.09,481.82 442.55,484.31 445.24,483.28 445.29,483.99 448.39,482.85 450.03,483.12 450.08,484.70 451.31,484.74 452.88,483.33 452.93,485.11 455.69,483.28 458.17,483.19 458.22,484.53 460.07,484.31 461.60,484.22 461.65,485.46 462.99,485.33 464.78,484.70 464.83,485.60 465.91,485.04 468.83,487.66 470.99,486.28 471.04,487.89 473.21,486.50 476.13,487.23 477.59,489.42 479.84,489.17 479.89,490.56 483.43,490.58 485.35,490.11 485.40,491.91 490.00,492.04 484.60,490.23 487.36,490.70 487.41,492.15 489.20,492.23 491.04,492.98 491.09,493.93 493.80,495.29 496.44,495.41 496.49,496.49 499.93,496.82 502.01,496.64 502.06,498.39 504.52,498.36 506.03,499.06 506.08,499.91 507.59,500.66 510.66,502.96 513.72,505.56 516.79,506.79 518.40,506.91 518.45,508.27 519.85,508.32 521.76,509.87 521.81,510.58 522.92,511.39 525.98,514.45 529.05,515.98 530.73,517.21 530.78,518.11 532.88,519.82 535.18,520.58 536.77,520.20 536.82,521.76 538.25,521.35 541.31,523.65 544.38,527.48 545.91,531.31 547.44,535.14 549.23,535.74 549.28,537.22 550.51,537.44 552.04,540.51 553.57,543.57 556.64,546.64 558.31,547.76 558.36,548.87 559.71,549.71 561.61,549.30 561.66,551.06 562.77,550.47 564.73,551.60 564.78,553.26 565.84,553.54 554.64,545.29 556.73,546.57 556.78,548.19 559.18,549.82 560.83,549.75 560.88,551.54 562.20,551.33 564.09,551.83 564.14,553.35 566.73,554.35 568.68,556.34 568.73,557.03 570.51,558.89 572.78,565.69 574.59,571.73 577.31,577.02 578.82,583.82 580.33,589.86 581.09,597.42 581.54,603.46 581.84,609.51 582.14,615.55 582.30,624.62 582.30,634.89" fill="none" stroke="#ee2233" stroke-width="1.05" stroke-linejoin="round"/>
<polyline points="391.75,457.01 407.81,457.01 407.81,467.23 408.69,467.52 408.69,476.57 410.44,475.11 416.28,471.90 421.39,468.69 421.82,473.36 424.31,475.55 425.77,477.74 427.66,479.20 428.25,478.47 429.12,483.28 431.34,481.69 431.39,483.08 433.80,481.39 435.51,480.48 435.56,481.09 436.72,480.36 437.45,481.39 439.36,479.65 439.41,481.22 441.82,479.20 444.74,478.47 447.66,477.45 448.39,479.93 451.31,479.20 453.03,478.17 453.08,479.30 455.69,478.03 456.42,481.39 457.15,482.41 460.07,480.95 461.53,481.82 463.12,480.84 463.17,482.43 465.18,481.39 466.64,483.58 468.83,484.31 471.02,486.50 471.75,490.88 474.28,489.61 474.33,490.62 477.59,489.12 480.51,490.58 482.70,492.34 484.23,491.39 484.28,492.06 487.86,489.67 487.91,490.88 490.00,489.42 482.30,491.46 486.13,489.93 489.05,489.07 489.10,489.81 490.73,489.16 492.26,490.69 493.97,491.48 494.02,492.46 495.33,492.99 497.07,492.86 497.12,494.29 499.93,494.52 501.68,494.17 501.73,495.75 502.99,495.29 505.12,496.34 505.17,497.65 506.82,498.36 509.12,500.66 509.89,506.02 512.19,504.49 514.27,505.21 514.32,505.84 516.79,506.79 519.85,507.55 522.82,509.33 522.87,510.72 524.45,511.39 526.50,512.21 526.55,513.63 527.52,513.68 529.05,515.98 530.72,517.21 530.77,518.10 533.65,520.58 536.71,522.88 539.78,526.71 542.84,529.01 544.38,532.08 545.91,534.38 547.45,534.36 547.50,535.94 548.98,535.91 551.28,538.98 552.81,543.57 555.11,545.87 558.17,548.17 560.01,548.99 560.06,550.10 561.24,550.47 563.90,551.88 563.95,552.61 565.84,553.54 552.83,544.53 554.60,545.42 554.65,546.86 556.15,547.56 558.07,548.96 558.12,549.98 559.93,551.33 561.51,551.70 561.56,552.86 563.71,553.60 565.63,554.17 565.68,555.34 567.49,555.87 570.51,559.64 572.02,564.93 573.53,570.22 575.04,577.02 577.31,580.04 578.06,585.33 579.58,592.13 581.09,598.93 581.84,604.97 582.14,611.02 582.30,618.57 582.30,634.89" fill="none" stroke="#2f8e7e" stroke-width="1.05" stroke-linejoin="round"/>
<rect x="391.60" y="450.10" width="191.00" height="184.70" fill="none" stroke="#a2a2a2" stroke-width="1.2"/>
<line x1="391.60" y1="634.80" x2="391.60" y2="636.80" stroke="#444" stroke-width="0.8"/>
<text x="0" y="0" font-family='"Liberation Serif", serif' font-size="10.4" font-weight="bold" text-anchor="middle" fill="#000" transform="translate(391.60 645.80) scale(1 1.08)">0.0</text>
<line x1="429.80" y1="634.80" x2="429.80" y2="636.80" stroke="#444" stroke-width="0.8"/>
<text x="0" y="0" font-family='"Liberation Serif", serif' font-size="10.4" font-weight="bold" text-anchor="middle" fill="#000" transform="translate(429.80 645.80) scale(1 1.08)">0.2</text>
<line x1="468.00" y1="634.80" x2="468.00" y2="636.80" stroke="#444" stroke-width="0.8"/>
<text x="0" y="0" font-family='"Liberation Serif", serif' font-size="10.4" font-weight="bold" text-anchor="middle" fill="#000" transform="translate(468.00 645.80) scale(1 1.08)">0.4</text>
<line x1="506.20" y1="634.80" x2="506.20" y2="636.80" stroke="#444" stroke-width="0.8"/>
<text x="0" y="0" font-family='"Liberation Serif", serif' font-size="10.4" font-weight="bold" text-anchor="middle" fill="#000" transform="translate(506.20 645.80) scale(1 1.08)">0.6</text>
<line x1="544.40" y1="634.80" x2="544.40" y2="636.80" stroke="#444" stroke-width="0.8"/>
<text x="0" y="0" font-family='"Liberation Serif", serif' font-size="10.4" font-weight="bold" text-anchor="middle" fill="#000" transform="translate(544.40 645.80) scale(1 1.08)">0.8</text>
<line x1="582.60" y1="634.80" x2="582.60" y2="636.80" stroke="#444" stroke-width="0.8"/>
<text x="0" y="0" font-family='"Liberation Serif", serif' font-size="10.4" font-weight="bold" text-anchor="middle" fill="#000" transform="translate(582.60 645.80) scale(1 1.08)">1.0</text>
<line x1="389.60" y1="634.80" x2="391.60" y2="634.80" stroke="#444" stroke-width="0.8"/>
<text x="0" y="0" font-family='"Liberation Serif", serif' font-size="10.4" font-weight="bold" text-anchor="end" fill="#000" transform="translate(389.00 637.40) scale(1 1.08)">0.5</text>
<line x1="389.60" y1="599.24" x2="391.60" y2="599.24" stroke="#444" stroke-width="0.8"/>
<text x="0" y="0" font-family='"Liberation Serif", serif' font-size="10.4" font-weight="bold" text-anchor="end" fill="#000" transform="translate(389.00 601.84) scale(1 1.08)">0.6</text>
<line x1="389.60" y1="563.68" x2="391.60" y2="563.68" stroke="#444" stroke-width="0.8"/>
<text x="0" y="0" font-family='"Liberation Serif", serif' font-size="10.4" font-weight="bold" text-anchor="end" fill="#000" transform="translate(389.00 566.28) scale(1 1.08)">0.7</text>
<line x1="389.60" y1="528.12" x2="391.60" y2="528.12" stroke="#444" stroke-width="0.8"/>
<text x="0" y="0" font-family='"Liberation Serif", serif' font-size="10.4" font-weight="bold" text-anchor="end" fill="#000" transform="translate(389.00 530.72) scale(1 1.08)">0.8</text>
<line x1="389.60" y1="492.56" x2="391.60" y2="492.56" stroke="#444" stroke-width="0.8"/>
<text x="0" y="0" font-family='"Liberation Serif", serif' font-size="10.4" font-weight="bold" text-anchor="end" fill="#000" transform="translate(389.00 495.16) scale(1 1.08)">0.9</text>
<line x1="389.60" y1="457.00" x2="391.60" y2="457.00" stroke="#444" stroke-width="0.8"/>
<text x="0" y="0" font-family='"Liberation Serif", serif' font-size="10.4" font-weight="bold" text-anchor="end" fill="#000" transform="translate(389.00 459.60) scale(1 1.08)">1.0</text>
<text x="0" y="0" font-family='"Liberation Serif", serif' font-size="13.3" font-weight="bold" text-anchor="middle" fill="#000" transform="translate(496.80 444.00) scale(1 1.08)">PRC Curve</text>
<text x="0" y="0" font-family='"Liberation Serif", serif' font-size="13.3" font-weight="bold" text-anchor="middle" fill="#000" transform="translate(488.90 659.60) scale(1 1.08)">Recall</text>
<text x="0" y="0" font-family='"Liberation Serif", serif' font-size="13.3" font-weight="bold" text-anchor="middle" fill="#000" transform="translate(373.90 537.90) rotate(-90) scale(1 1.08)">Precision</text>
<rect x="400.6" y="595.5" width="168.0" height="34.0" rx="2" fill="#fff" fill-opacity="0.85" stroke="#dcdcdc" stroke-width="0.8"/>
<line x1="403.30" y1="605.00" x2="415.60" y2="605.00" stroke="#ee2233" stroke-width="1.3"/>
<line x1="403.30" y1="619.70" x2="415.60" y2="619.70" stroke="#2f8e7e" stroke-width="1.3"/>
<text x="0" y="0" font-family='"Liberation Serif", serif' font-size="9.45" font-weight="bold" text-anchor="start" fill="#000" transform="translate(420.30 608.20) scale(1 1.08)">Independent data (AUPRC = 0.866)</text>
<text x="0" y="0" font-family='"Liberation Serif", serif' font-size="9.45" font-weight="bold" text-anchor="start" fill="#000" transform="translate(420.30 622.90) scale(1 1.08)">Validation data (AUPRC = 0.874)</text>
<text x="0" y="0" font-family='"Liberation Sans", sans-serif' font-size="15" font-weight="bold" text-anchor="start" fill="#000" transform="translate(365.20 445.00) scale(1 1.0)">H</text>
</svg>
</body></html>
